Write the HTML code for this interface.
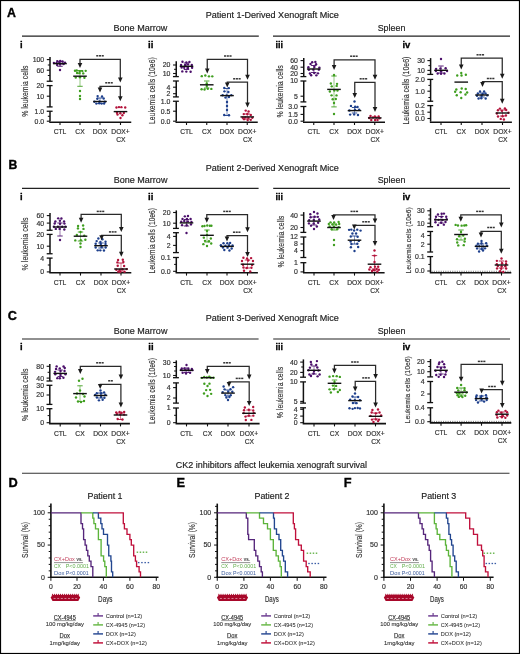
<!DOCTYPE html>
<html><head><meta charset="utf-8"><style>html,body{margin:0;padding:0;background:#fff;width:520px;height:654px;overflow:hidden;position:relative}</style></head><body>
<svg width="520" height="654" viewBox="0 0 520 654" style="position:absolute;left:0;top:0;will-change:transform;font-family:&quot;Liberation Sans&quot;, sans-serif">
<rect x="0" y="0" width="520" height="654" fill="#fff"/>
<text x="7" y="17" font-size="12.35" text-anchor="start" font-weight="bold" fill="#000" stroke="#000" stroke-width="0.35">A</text>
<text x="205.8" y="18.1" font-size="9.59" text-anchor="start" font-weight="normal" fill="#222" stroke="#222" stroke-width="0.18" textLength="133.1" lengthAdjust="spacingAndGlyphs">Patient 1-Derived Xenograft Mice</text>
<text x="113.5" y="31.1" font-size="9.59" text-anchor="start" font-weight="normal" fill="#222" stroke="#222" stroke-width="0.18" textLength="53.9" lengthAdjust="spacingAndGlyphs">Bone Marrow</text>
<text x="377.7" y="31.1" font-size="9.59" text-anchor="start" font-weight="normal" fill="#222" stroke="#222" stroke-width="0.18" textLength="27.7" lengthAdjust="spacingAndGlyphs">Spleen</text>
<line x1="22" y1="36.2" x2="258.8" y2="36.2" stroke="#222" stroke-width="1.2"/>
<line x1="273" y1="36.2" x2="510" y2="36.2" stroke="#222" stroke-width="1.2"/>
<text x="8.45" y="169.4" font-size="12.21" text-anchor="start" font-weight="bold" fill="#000" stroke="#000" stroke-width="0.35">B</text>
<text x="205.8" y="170.6" font-size="9.3" text-anchor="start" font-weight="normal" fill="#222" stroke="#222" stroke-width="0.18" textLength="133.1" lengthAdjust="spacingAndGlyphs">Patient 2-Derived Xenograft Mice</text>
<text x="113.8" y="183.2" font-size="9.45" text-anchor="start" font-weight="normal" fill="#222" stroke="#222" stroke-width="0.18" textLength="53.6" lengthAdjust="spacingAndGlyphs">Bone Marrow</text>
<text x="377.7" y="183.2" font-size="9.45" text-anchor="start" font-weight="normal" fill="#222" stroke="#222" stroke-width="0.18" textLength="27.7" lengthAdjust="spacingAndGlyphs">Spleen</text>
<line x1="22" y1="188.3" x2="258.6" y2="188.3" stroke="#222" stroke-width="1.2"/>
<line x1="273.2" y1="188.3" x2="510" y2="188.3" stroke="#222" stroke-width="1.2"/>
<text x="7.8" y="320.25" font-size="12.72" text-anchor="start" font-weight="bold" fill="#000" stroke="#000" stroke-width="0.35">C</text>
<text x="205.8" y="321.4" font-size="9.3" text-anchor="start" font-weight="normal" fill="#222" stroke="#222" stroke-width="0.18" textLength="133.1" lengthAdjust="spacingAndGlyphs">Patient 3-Derived Xenograft Mice</text>
<text x="113.8" y="334" font-size="9.59" text-anchor="start" font-weight="normal" fill="#222" stroke="#222" stroke-width="0.18" textLength="53.6" lengthAdjust="spacingAndGlyphs">Bone Marrow</text>
<text x="377.7" y="334" font-size="9.59" text-anchor="start" font-weight="normal" fill="#222" stroke="#222" stroke-width="0.18" textLength="27.7" lengthAdjust="spacingAndGlyphs">Spleen</text>
<line x1="22" y1="339" x2="258.6" y2="339" stroke="#222" stroke-width="1.2"/>
<line x1="273.2" y1="339" x2="510" y2="339" stroke="#222" stroke-width="1.2"/>
<text x="19.9" y="47.5" font-size="9.6" text-anchor="start" font-weight="bold" fill="#000" stroke="#000" stroke-width="0.3" textLength="2.6" lengthAdjust="spacingAndGlyphs">i</text>
<text transform="translate(27.6,91.1) rotate(-90)" x="0" y="0" font-size="8.82" text-anchor="middle" fill="#333" stroke="#333" stroke-width="0.15" textLength="51.2" lengthAdjust="spacingAndGlyphs">% leukemia cells</text>
<line x1="50" y1="57" x2="50" y2="81.25" stroke="#111" stroke-width="1.5"/>
<line x1="46.8" y1="59.6" x2="50" y2="59.6" stroke="#111" stroke-width="1.1"/>
<text x="44.2" y="62" font-size="6.9" text-anchor="end" font-weight="normal" fill="#333" stroke="#333" stroke-width="0.18">100</text>
<line x1="47.8" y1="65" x2="50" y2="65" stroke="#111" stroke-width="1"/>
<line x1="46.8" y1="70.2" x2="50" y2="70.2" stroke="#111" stroke-width="1.1"/>
<text x="44.2" y="72.6" font-size="6.9" text-anchor="end" font-weight="normal" fill="#333" stroke="#333" stroke-width="0.18">60</text>
<line x1="47.8" y1="75.5" x2="50" y2="75.5" stroke="#111" stroke-width="1"/>
<line x1="46.7" y1="81.25" x2="52.6" y2="81.25" stroke="#111" stroke-width="1.3"/>
<line x1="50" y1="85.6" x2="50" y2="106.9" stroke="#111" stroke-width="1.5"/>
<line x1="46.7" y1="85.6" x2="52.6" y2="85.6" stroke="#111" stroke-width="1.3"/>
<text x="44.2" y="88" font-size="6.9" text-anchor="end" font-weight="normal" fill="#333" stroke="#333" stroke-width="0.18">20</text>
<line x1="46.8" y1="96.2" x2="50" y2="96.2" stroke="#111" stroke-width="1.1"/>
<text x="44.2" y="98.6" font-size="6.9" text-anchor="end" font-weight="normal" fill="#333" stroke="#333" stroke-width="0.18">10</text>
<line x1="46.7" y1="106.9" x2="52.6" y2="106.9" stroke="#111" stroke-width="1.3"/>
<line x1="50" y1="111.25" x2="50" y2="121.6" stroke="#111" stroke-width="1.5"/>
<line x1="46.7" y1="111.25" x2="52.6" y2="111.25" stroke="#111" stroke-width="1.3"/>
<text x="44.2" y="113.65" font-size="6.9" text-anchor="end" font-weight="normal" fill="#333" stroke="#333" stroke-width="0.18">1.0</text>
<line x1="47.8" y1="116.3" x2="50" y2="116.3" stroke="#111" stroke-width="1"/>
<line x1="46.8" y1="121.2" x2="50" y2="121.2" stroke="#111" stroke-width="1.1"/>
<text x="44.2" y="123.6" font-size="6.9" text-anchor="end" font-weight="normal" fill="#333" stroke="#333" stroke-width="0.18">0.0</text>
<line x1="49.25" y1="122.2" x2="131.25" y2="122.2" stroke="#111" stroke-width="1.6"/>
<line x1="60" y1="122.2" x2="60" y2="125" stroke="#111" stroke-width="1.1"/>
<text x="60" y="134.1" font-size="6.7" text-anchor="middle" font-weight="normal" fill="#333" stroke="#333" stroke-width="0.18">CTL</text>
<line x1="80" y1="122.2" x2="80" y2="125" stroke="#111" stroke-width="1.1"/>
<text x="80" y="134.1" font-size="6.7" text-anchor="middle" font-weight="normal" fill="#333" stroke="#333" stroke-width="0.18">CX</text>
<line x1="100" y1="122.2" x2="100" y2="125" stroke="#111" stroke-width="1.1"/>
<text x="100" y="134.1" font-size="6.7" text-anchor="middle" font-weight="normal" fill="#333" stroke="#333" stroke-width="0.18">DOX</text>
<line x1="120.5" y1="122.2" x2="120.5" y2="125" stroke="#111" stroke-width="1.1"/>
<text x="120.5" y="134.1" font-size="6.7" text-anchor="middle" font-weight="normal" fill="#333" stroke="#333" stroke-width="0.18">DOX+</text>
<text x="120.8" y="142.1" font-size="6.7" text-anchor="middle" font-weight="normal" fill="#333" stroke="#333" stroke-width="0.18">CX</text>
<line x1="60" y1="61.4" x2="60" y2="66.3" stroke="#4b0f6b" stroke-width="0.55"/>
<line x1="57.3" y1="61.4" x2="62.7" y2="61.4" stroke="#4b0f6b" stroke-width="0.9"/>
<line x1="57.3" y1="66.3" x2="62.7" y2="66.3" stroke="#4b0f6b" stroke-width="0.9"/>
<circle cx="57.25" cy="61.08" r="1.2" fill="#4b0f6b"/>
<circle cx="60.21" cy="60.99" r="1.2" fill="#4b0f6b"/>
<circle cx="62.55" cy="61.34" r="1.2" fill="#4b0f6b"/>
<circle cx="53.88" cy="63.01" r="1.2" fill="#4b0f6b"/>
<circle cx="56.6" cy="62.92" r="1.2" fill="#4b0f6b"/>
<circle cx="59.4" cy="62.51" r="1.2" fill="#4b0f6b"/>
<circle cx="62.64" cy="63.39" r="1.2" fill="#4b0f6b"/>
<circle cx="64.97" cy="62.67" r="1.2" fill="#4b0f6b"/>
<circle cx="57.18" cy="65.04" r="1.2" fill="#4b0f6b"/>
<circle cx="60.11" cy="64.38" r="1.2" fill="#4b0f6b"/>
<circle cx="63.67" cy="63.96" r="1.2" fill="#4b0f6b"/>
<circle cx="60" cy="70" r="1.2" fill="#4b0f6b"/>
<line x1="53.2" y1="63.6" x2="66.8" y2="63.6" stroke="#111" stroke-width="1.4"/>
<line x1="80" y1="70.5" x2="80" y2="86.3" stroke="#3f9e1f" stroke-width="0.55"/>
<line x1="77.3" y1="70.5" x2="82.7" y2="70.5" stroke="#3f9e1f" stroke-width="0.9"/>
<line x1="77.3" y1="86.3" x2="82.7" y2="86.3" stroke="#3f9e1f" stroke-width="0.9"/>
<circle cx="75" cy="70.75" r="1.2" fill="#3f9e1f"/>
<circle cx="76.75" cy="70.54" r="1.2" fill="#3f9e1f"/>
<circle cx="79.73" cy="71.38" r="1.2" fill="#3f9e1f"/>
<circle cx="82.3" cy="71.1" r="1.2" fill="#3f9e1f"/>
<circle cx="85.69" cy="70.85" r="1.2" fill="#3f9e1f"/>
<circle cx="77.07" cy="72.98" r="1.2" fill="#3f9e1f"/>
<circle cx="79.38" cy="73.15" r="1.2" fill="#3f9e1f"/>
<circle cx="83.25" cy="73.41" r="1.2" fill="#3f9e1f"/>
<circle cx="75.74" cy="77.6" r="1.2" fill="#3f9e1f"/>
<circle cx="79.93" cy="77.26" r="1.2" fill="#3f9e1f"/>
<circle cx="84.41" cy="77.74" r="1.2" fill="#3f9e1f"/>
<circle cx="80" cy="91" r="1.2" fill="#3f9e1f"/>
<circle cx="80" cy="96" r="1.2" fill="#3f9e1f"/>
<circle cx="80" cy="99" r="1.2" fill="#3f9e1f"/>
<line x1="73.2" y1="76.2" x2="86.8" y2="76.2" stroke="#111" stroke-width="1.4"/>
<line x1="100" y1="98" x2="100" y2="103.5" stroke="#1d3f8c" stroke-width="0.55"/>
<line x1="97.3" y1="98" x2="102.7" y2="98" stroke="#1d3f8c" stroke-width="0.9"/>
<line x1="97.3" y1="103.5" x2="102.7" y2="103.5" stroke="#1d3f8c" stroke-width="0.9"/>
<circle cx="97.64" cy="96.09" r="1.2" fill="#1d3f8c"/>
<circle cx="102.04" cy="96.45" r="1.2" fill="#1d3f8c"/>
<circle cx="97.32" cy="98.75" r="1.2" fill="#1d3f8c"/>
<circle cx="103.67" cy="98.54" r="1.2" fill="#1d3f8c"/>
<circle cx="94.39" cy="101.81" r="1.2" fill="#1d3f8c"/>
<circle cx="99.51" cy="101.49" r="1.2" fill="#1d3f8c"/>
<circle cx="104.85" cy="101.7" r="1.2" fill="#1d3f8c"/>
<circle cx="96.37" cy="103.59" r="1.2" fill="#1d3f8c"/>
<circle cx="99.19" cy="103.28" r="1.2" fill="#1d3f8c"/>
<circle cx="101.61" cy="103.61" r="1.2" fill="#1d3f8c"/>
<circle cx="104.11" cy="103.45" r="1.2" fill="#1d3f8c"/>
<line x1="93.2" y1="101.5" x2="106.8" y2="101.5" stroke="#111" stroke-width="1.4"/>
<circle cx="116.48" cy="107.43" r="1.2" fill="#b3123a"/>
<circle cx="118.96" cy="107.1" r="1.2" fill="#b3123a"/>
<circle cx="121.38" cy="107.14" r="1.2" fill="#b3123a"/>
<circle cx="125.21" cy="107.49" r="1.2" fill="#b3123a"/>
<circle cx="116.95" cy="112.74" r="1.2" fill="#b3123a"/>
<circle cx="120.34" cy="113.2" r="1.2" fill="#b3123a"/>
<circle cx="123.83" cy="112.95" r="1.2" fill="#b3123a"/>
<circle cx="117.54" cy="114.54" r="1.2" fill="#b3123a"/>
<circle cx="122.38" cy="115.32" r="1.2" fill="#b3123a"/>
<circle cx="120.5" cy="118" r="1.2" fill="#b3123a"/>
<line x1="113.7" y1="111.6" x2="127.3" y2="111.6" stroke="#111" stroke-width="1.4"/>
<polyline points="80,64.5 80,59.3 120.3,59.3 120.3,79" fill="none" stroke="#2a2a2a" stroke-width="1.25"/>
<polygon points="77.7,63 82.3,63 80,68" fill="#1a1a1a"/>
<polygon points="118,77.5 122.6,77.5 120.3,82.5" fill="#1a1a1a"/>
<rect x="96.22" y="55.05" width="2.1" height="1.5" fill="#333"/>
<rect x="98.95" y="55.05" width="2.1" height="1.5" fill="#333"/>
<rect x="101.68" y="55.05" width="2.1" height="1.5" fill="#333"/>
<polyline points="100,89 100,86.3 120.3,86.3 120.3,97.8" fill="none" stroke="#2a2a2a" stroke-width="1.25"/>
<polygon points="97.7,87.5 102.3,87.5 100,92.5" fill="#1a1a1a"/>
<polygon points="118,96.3 122.6,96.3 120.3,101.3" fill="#1a1a1a"/>
<rect x="105.22" y="82.05" width="2.1" height="1.5" fill="#333"/>
<rect x="107.95" y="82.05" width="2.1" height="1.5" fill="#333"/>
<rect x="110.68" y="82.05" width="2.1" height="1.5" fill="#333"/>
<text x="148" y="47.5" font-size="9.6" text-anchor="start" font-weight="bold" fill="#000" stroke="#000" stroke-width="0.3" textLength="5.3" lengthAdjust="spacingAndGlyphs">ii</text>
<text transform="translate(155.18,90.65) rotate(-90)" x="0" y="0" font-size="8.44" text-anchor="middle" fill="#333" stroke="#333" stroke-width="0.15" textLength="66.7" lengthAdjust="spacingAndGlyphs">Leukemia cells (10e6)</text>
<line x1="176.25" y1="61.2" x2="176.25" y2="76.6" stroke="#111" stroke-width="1.5"/>
<line x1="173.05" y1="65" x2="176.25" y2="65" stroke="#111" stroke-width="1.1"/>
<text x="170.45" y="67.4" font-size="6.9" text-anchor="end" font-weight="normal" fill="#333" stroke="#333" stroke-width="0.18">20</text>
<line x1="174.05" y1="69.3" x2="176.25" y2="69.3" stroke="#111" stroke-width="1"/>
<line x1="173.05" y1="73.5" x2="176.25" y2="73.5" stroke="#111" stroke-width="1.1"/>
<text x="170.45" y="75.9" font-size="6.9" text-anchor="end" font-weight="normal" fill="#333" stroke="#333" stroke-width="0.18">10</text>
<line x1="172.95" y1="76.6" x2="178.85" y2="76.6" stroke="#111" stroke-width="1.3"/>
<line x1="176.25" y1="81" x2="176.25" y2="96.9" stroke="#111" stroke-width="1.5"/>
<line x1="172.95" y1="81" x2="178.85" y2="81" stroke="#111" stroke-width="1.3"/>
<line x1="173.05" y1="87.2" x2="176.25" y2="87.2" stroke="#111" stroke-width="1.1"/>
<text x="170.45" y="89.6" font-size="6.9" text-anchor="end" font-weight="normal" fill="#333" stroke="#333" stroke-width="0.18">4</text>
<line x1="173.05" y1="93.7" x2="176.25" y2="93.7" stroke="#111" stroke-width="1.1"/>
<text x="170.45" y="96.1" font-size="6.9" text-anchor="end" font-weight="normal" fill="#333" stroke="#333" stroke-width="0.18">2</text>
<line x1="172.95" y1="96.9" x2="178.85" y2="96.9" stroke="#111" stroke-width="1.3"/>
<line x1="176.25" y1="101.25" x2="176.25" y2="121.6" stroke="#111" stroke-width="1.5"/>
<line x1="172.95" y1="101.25" x2="178.85" y2="101.25" stroke="#111" stroke-width="1.3"/>
<text x="170.45" y="103.65" font-size="6.9" text-anchor="end" font-weight="normal" fill="#333" stroke="#333" stroke-width="0.18">1.0</text>
<line x1="173.05" y1="111.2" x2="176.25" y2="111.2" stroke="#111" stroke-width="1.1"/>
<text x="170.45" y="113.6" font-size="6.9" text-anchor="end" font-weight="normal" fill="#333" stroke="#333" stroke-width="0.18">0.5</text>
<line x1="173.05" y1="121.2" x2="176.25" y2="121.2" stroke="#111" stroke-width="1.1"/>
<text x="170.45" y="123.6" font-size="6.9" text-anchor="end" font-weight="normal" fill="#333" stroke="#333" stroke-width="0.18">0.0</text>
<line x1="175.5" y1="122.2" x2="257.75" y2="122.2" stroke="#111" stroke-width="1.6"/>
<line x1="186.5" y1="122.2" x2="186.5" y2="125" stroke="#111" stroke-width="1.1"/>
<text x="186.5" y="134.1" font-size="6.7" text-anchor="middle" font-weight="normal" fill="#333" stroke="#333" stroke-width="0.18">CTL</text>
<line x1="206.75" y1="122.2" x2="206.75" y2="125" stroke="#111" stroke-width="1.1"/>
<text x="206.75" y="134.1" font-size="6.7" text-anchor="middle" font-weight="normal" fill="#333" stroke="#333" stroke-width="0.18">CX</text>
<line x1="227" y1="122.2" x2="227" y2="125" stroke="#111" stroke-width="1.1"/>
<text x="227" y="134.1" font-size="6.7" text-anchor="middle" font-weight="normal" fill="#333" stroke="#333" stroke-width="0.18">DOX</text>
<line x1="247.25" y1="122.2" x2="247.25" y2="125" stroke="#111" stroke-width="1.1"/>
<text x="247.25" y="134.1" font-size="6.7" text-anchor="middle" font-weight="normal" fill="#333" stroke="#333" stroke-width="0.18">DOX+</text>
<text x="247.55" y="142.1" font-size="6.7" text-anchor="middle" font-weight="normal" fill="#333" stroke="#333" stroke-width="0.18">CX</text>
<line x1="186.5" y1="63" x2="186.5" y2="69.5" stroke="#4b0f6b" stroke-width="0.55"/>
<line x1="183.8" y1="63" x2="189.2" y2="63" stroke="#4b0f6b" stroke-width="0.9"/>
<line x1="183.8" y1="69.5" x2="189.2" y2="69.5" stroke="#4b0f6b" stroke-width="0.9"/>
<circle cx="182.48" cy="61.7" r="1.2" fill="#4b0f6b"/>
<circle cx="186.35" cy="62.45" r="1.2" fill="#4b0f6b"/>
<circle cx="189.41" cy="61.94" r="1.2" fill="#4b0f6b"/>
<circle cx="181.07" cy="64.96" r="1.2" fill="#4b0f6b"/>
<circle cx="185.11" cy="64.94" r="1.2" fill="#4b0f6b"/>
<circle cx="188.02" cy="64.4" r="1.2" fill="#4b0f6b"/>
<circle cx="191.8" cy="64.96" r="1.2" fill="#4b0f6b"/>
<circle cx="181.64" cy="67.58" r="1.2" fill="#4b0f6b"/>
<circle cx="184.21" cy="67.68" r="1.2" fill="#4b0f6b"/>
<circle cx="187.96" cy="67.98" r="1.2" fill="#4b0f6b"/>
<circle cx="192.12" cy="67.72" r="1.2" fill="#4b0f6b"/>
<circle cx="182.31" cy="71.4" r="1.2" fill="#4b0f6b"/>
<circle cx="186.32" cy="71.58" r="1.2" fill="#4b0f6b"/>
<circle cx="190.63" cy="71.73" r="1.2" fill="#4b0f6b"/>
<line x1="179.7" y1="66.3" x2="193.3" y2="66.3" stroke="#111" stroke-width="1.4"/>
<line x1="206.75" y1="81" x2="206.75" y2="88" stroke="#3f9e1f" stroke-width="0.55"/>
<line x1="204.05" y1="81" x2="209.45" y2="81" stroke="#3f9e1f" stroke-width="0.9"/>
<line x1="204.05" y1="88" x2="209.45" y2="88" stroke="#3f9e1f" stroke-width="0.9"/>
<circle cx="201.77" cy="76.14" r="1.2" fill="#3f9e1f"/>
<circle cx="205.33" cy="75.46" r="1.2" fill="#3f9e1f"/>
<circle cx="208.98" cy="76.34" r="1.2" fill="#3f9e1f"/>
<circle cx="212.27" cy="76.36" r="1.2" fill="#3f9e1f"/>
<circle cx="206.75" cy="83.5" r="1.2" fill="#3f9e1f"/>
<circle cx="206.75" cy="86" r="1.2" fill="#3f9e1f"/>
<circle cx="201.6" cy="89.18" r="1.2" fill="#3f9e1f"/>
<circle cx="204.53" cy="89.46" r="1.2" fill="#3f9e1f"/>
<circle cx="207.8" cy="88.78" r="1.2" fill="#3f9e1f"/>
<circle cx="211.34" cy="88.89" r="1.2" fill="#3f9e1f"/>
<line x1="199.95" y1="84.8" x2="213.55" y2="84.8" stroke="#111" stroke-width="1.4"/>
<line x1="227" y1="88.5" x2="227" y2="115.5" stroke="#1d3f8c" stroke-width="0.55"/>
<line x1="224.3" y1="88.5" x2="229.7" y2="88.5" stroke="#1d3f8c" stroke-width="0.9"/>
<line x1="224.3" y1="115.5" x2="229.7" y2="115.5" stroke="#1d3f8c" stroke-width="0.9"/>
<circle cx="224.28" cy="87.96" r="1.2" fill="#1d3f8c"/>
<circle cx="228.8" cy="88.08" r="1.2" fill="#1d3f8c"/>
<circle cx="224.44" cy="91.34" r="1.2" fill="#1d3f8c"/>
<circle cx="228.34" cy="91.95" r="1.2" fill="#1d3f8c"/>
<circle cx="222.66" cy="95.18" r="1.2" fill="#1d3f8c"/>
<circle cx="226.65" cy="95.42" r="1.2" fill="#1d3f8c"/>
<circle cx="231.31" cy="95.15" r="1.2" fill="#1d3f8c"/>
<circle cx="225.49" cy="97.59" r="1.2" fill="#1d3f8c"/>
<circle cx="228.95" cy="96.98" r="1.2" fill="#1d3f8c"/>
<circle cx="227" cy="102" r="1.2" fill="#1d3f8c"/>
<circle cx="227" cy="106" r="1.2" fill="#1d3f8c"/>
<circle cx="227" cy="110" r="1.2" fill="#1d3f8c"/>
<circle cx="224.22" cy="115.02" r="1.2" fill="#1d3f8c"/>
<circle cx="228.98" cy="115.22" r="1.2" fill="#1d3f8c"/>
<line x1="220.2" y1="95.6" x2="233.8" y2="95.6" stroke="#111" stroke-width="1.4"/>
<line x1="247.25" y1="114" x2="247.25" y2="119" stroke="#b3123a" stroke-width="0.55"/>
<line x1="244.55" y1="114" x2="249.95" y2="114" stroke="#b3123a" stroke-width="0.9"/>
<line x1="244.55" y1="119" x2="249.95" y2="119" stroke="#b3123a" stroke-width="0.9"/>
<circle cx="245.71" cy="110.59" r="1.2" fill="#b3123a"/>
<circle cx="248.58" cy="111.54" r="1.2" fill="#b3123a"/>
<circle cx="243.79" cy="114.08" r="1.2" fill="#b3123a"/>
<circle cx="247.31" cy="113.93" r="1.2" fill="#b3123a"/>
<circle cx="250.79" cy="115.07" r="1.2" fill="#b3123a"/>
<circle cx="242.76" cy="117.74" r="1.2" fill="#b3123a"/>
<circle cx="245.25" cy="117.34" r="1.2" fill="#b3123a"/>
<circle cx="248.45" cy="117.83" r="1.2" fill="#b3123a"/>
<circle cx="252.3" cy="117.83" r="1.2" fill="#b3123a"/>
<circle cx="244.01" cy="119.17" r="1.2" fill="#b3123a"/>
<circle cx="247.69" cy="120.08" r="1.2" fill="#b3123a"/>
<circle cx="250.74" cy="119.87" r="1.2" fill="#b3123a"/>
<line x1="240.45" y1="116.9" x2="254.05" y2="116.9" stroke="#111" stroke-width="1.4"/>
<polyline points="207.25,70 207.25,59.4 247.5,59.4 247.5,76.3" fill="none" stroke="#2a2a2a" stroke-width="1.25"/>
<polygon points="204.95,68.5 209.55,68.5 207.25,73.5" fill="#1a1a1a"/>
<polygon points="245.2,74.8 249.8,74.8 247.5,79.8" fill="#1a1a1a"/>
<rect x="224.02" y="55.25" width="2.1" height="1.5" fill="#333"/>
<rect x="226.75" y="55.25" width="2.1" height="1.5" fill="#333"/>
<rect x="229.48" y="55.25" width="2.1" height="1.5" fill="#333"/>
<polyline points="227.25,84 227.25,82.1 247.5,82.1 247.5,104" fill="none" stroke="#2a2a2a" stroke-width="1.25"/>
<polygon points="224.95,82.5 229.55,82.5 227.25,87.5" fill="#1a1a1a"/>
<polygon points="245.2,102.5 249.8,102.5 247.5,107.5" fill="#1a1a1a"/>
<rect x="233.12" y="78.05" width="2.1" height="1.5" fill="#333"/>
<rect x="235.85" y="78.05" width="2.1" height="1.5" fill="#333"/>
<rect x="238.58" y="78.05" width="2.1" height="1.5" fill="#333"/>
<text x="275.4" y="47.5" font-size="9.6" text-anchor="start" font-weight="bold" fill="#000" stroke="#000" stroke-width="0.3" textLength="7.5" lengthAdjust="spacingAndGlyphs">iii</text>
<text transform="translate(283.3,91.4) rotate(-90)" x="0" y="0" font-size="8.42" text-anchor="middle" fill="#333" stroke="#333" stroke-width="0.15" textLength="52.4" lengthAdjust="spacingAndGlyphs">% leukemia cells</text>
<line x1="303.75" y1="58" x2="303.75" y2="76.6" stroke="#111" stroke-width="1.5"/>
<line x1="300.55" y1="60.6" x2="303.75" y2="60.6" stroke="#111" stroke-width="1.1"/>
<text x="297.95" y="63" font-size="6.9" text-anchor="end" font-weight="normal" fill="#333" stroke="#333" stroke-width="0.18">60</text>
<line x1="300.55" y1="67.2" x2="303.75" y2="67.2" stroke="#111" stroke-width="1.1"/>
<text x="297.95" y="69.6" font-size="6.9" text-anchor="end" font-weight="normal" fill="#333" stroke="#333" stroke-width="0.18">40</text>
<line x1="300.55" y1="73.5" x2="303.75" y2="73.5" stroke="#111" stroke-width="1.1"/>
<text x="297.95" y="75.9" font-size="6.9" text-anchor="end" font-weight="normal" fill="#333" stroke="#333" stroke-width="0.18">20</text>
<line x1="300.45" y1="76.6" x2="306.35" y2="76.6" stroke="#111" stroke-width="1.3"/>
<line x1="303.75" y1="81" x2="303.75" y2="101.9" stroke="#111" stroke-width="1.5"/>
<line x1="300.45" y1="81" x2="306.35" y2="81" stroke="#111" stroke-width="1.3"/>
<text x="297.95" y="83.4" font-size="6.9" text-anchor="end" font-weight="normal" fill="#333" stroke="#333" stroke-width="0.18">10</text>
<line x1="300.55" y1="96.2" x2="303.75" y2="96.2" stroke="#111" stroke-width="1.1"/>
<text x="297.95" y="98.6" font-size="6.9" text-anchor="end" font-weight="normal" fill="#333" stroke="#333" stroke-width="0.18">5</text>
<line x1="300.45" y1="101.9" x2="306.35" y2="101.9" stroke="#111" stroke-width="1.3"/>
<line x1="303.75" y1="106.5" x2="303.75" y2="121.6" stroke="#111" stroke-width="1.5"/>
<line x1="300.45" y1="106.5" x2="306.35" y2="106.5" stroke="#111" stroke-width="1.3"/>
<text x="297.95" y="108.9" font-size="6.9" text-anchor="end" font-weight="normal" fill="#333" stroke="#333" stroke-width="0.18">3.0</text>
<line x1="300.55" y1="114.4" x2="303.75" y2="114.4" stroke="#111" stroke-width="1.1"/>
<text x="297.95" y="116.8" font-size="6.9" text-anchor="end" font-weight="normal" fill="#333" stroke="#333" stroke-width="0.18">1.5</text>
<line x1="300.55" y1="121.2" x2="303.75" y2="121.2" stroke="#111" stroke-width="1.1"/>
<text x="297.95" y="123.6" font-size="6.9" text-anchor="end" font-weight="normal" fill="#333" stroke="#333" stroke-width="0.18">0.0</text>
<line x1="303" y1="122.2" x2="385" y2="122.2" stroke="#111" stroke-width="1.6"/>
<line x1="313.75" y1="122.2" x2="313.75" y2="125" stroke="#111" stroke-width="1.1"/>
<text x="313.75" y="134.1" font-size="6.7" text-anchor="middle" font-weight="normal" fill="#333" stroke="#333" stroke-width="0.18">CTL</text>
<line x1="334" y1="122.2" x2="334" y2="125" stroke="#111" stroke-width="1.1"/>
<text x="334" y="134.1" font-size="6.7" text-anchor="middle" font-weight="normal" fill="#333" stroke="#333" stroke-width="0.18">CX</text>
<line x1="354.5" y1="122.2" x2="354.5" y2="125" stroke="#111" stroke-width="1.1"/>
<text x="354.5" y="134.1" font-size="6.7" text-anchor="middle" font-weight="normal" fill="#333" stroke="#333" stroke-width="0.18">DOX</text>
<line x1="374.75" y1="122.2" x2="374.75" y2="125" stroke="#111" stroke-width="1.1"/>
<text x="374.75" y="134.1" font-size="6.7" text-anchor="middle" font-weight="normal" fill="#333" stroke="#333" stroke-width="0.18">DOX+</text>
<text x="375.05" y="142.1" font-size="6.7" text-anchor="middle" font-weight="normal" fill="#333" stroke="#333" stroke-width="0.18">CX</text>
<line x1="313.75" y1="65.5" x2="313.75" y2="72.5" stroke="#4b0f6b" stroke-width="0.55"/>
<line x1="311.05" y1="65.5" x2="316.45" y2="65.5" stroke="#4b0f6b" stroke-width="0.9"/>
<line x1="311.05" y1="72.5" x2="316.45" y2="72.5" stroke="#4b0f6b" stroke-width="0.9"/>
<circle cx="312.2" cy="62.29" r="1.2" fill="#4b0f6b"/>
<circle cx="315.37" cy="62.02" r="1.2" fill="#4b0f6b"/>
<circle cx="310.55" cy="63.93" r="1.2" fill="#4b0f6b"/>
<circle cx="316.09" cy="64.24" r="1.2" fill="#4b0f6b"/>
<circle cx="308.41" cy="67.23" r="1.2" fill="#4b0f6b"/>
<circle cx="314.39" cy="66.94" r="1.2" fill="#4b0f6b"/>
<circle cx="319.36" cy="67.59" r="1.2" fill="#4b0f6b"/>
<circle cx="308.89" cy="69.84" r="1.2" fill="#4b0f6b"/>
<circle cx="313.36" cy="69.67" r="1.2" fill="#4b0f6b"/>
<circle cx="318.83" cy="69.65" r="1.2" fill="#4b0f6b"/>
<circle cx="309.92" cy="73.48" r="1.2" fill="#4b0f6b"/>
<circle cx="314.23" cy="72.98" r="1.2" fill="#4b0f6b"/>
<circle cx="317.96" cy="73.36" r="1.2" fill="#4b0f6b"/>
<circle cx="311.17" cy="75.19" r="1.2" fill="#4b0f6b"/>
<circle cx="316.32" cy="75.34" r="1.2" fill="#4b0f6b"/>
<line x1="306.95" y1="69" x2="320.55" y2="69" stroke="#111" stroke-width="1.4"/>
<line x1="334" y1="76" x2="334" y2="106.9" stroke="#3f9e1f" stroke-width="0.55"/>
<line x1="331.3" y1="76" x2="336.7" y2="76" stroke="#3f9e1f" stroke-width="0.9"/>
<line x1="331.3" y1="106.9" x2="336.7" y2="106.9" stroke="#3f9e1f" stroke-width="0.9"/>
<circle cx="334" cy="75" r="1.2" fill="#3f9e1f"/>
<circle cx="330.85" cy="83.47" r="1.2" fill="#3f9e1f"/>
<circle cx="337.05" cy="83.85" r="1.2" fill="#3f9e1f"/>
<circle cx="331.77" cy="86.36" r="1.2" fill="#3f9e1f"/>
<circle cx="336.66" cy="85.88" r="1.2" fill="#3f9e1f"/>
<circle cx="329.86" cy="91.54" r="1.2" fill="#3f9e1f"/>
<circle cx="334.31" cy="90.6" r="1.2" fill="#3f9e1f"/>
<circle cx="337.48" cy="90.58" r="1.2" fill="#3f9e1f"/>
<circle cx="331.57" cy="95.37" r="1.2" fill="#3f9e1f"/>
<circle cx="336.5" cy="95.39" r="1.2" fill="#3f9e1f"/>
<circle cx="332.67" cy="99.19" r="1.2" fill="#3f9e1f"/>
<circle cx="335.79" cy="99.06" r="1.2" fill="#3f9e1f"/>
<circle cx="334" cy="103" r="1.2" fill="#3f9e1f"/>
<circle cx="334" cy="114" r="1.2" fill="#3f9e1f"/>
<line x1="327.2" y1="89.4" x2="340.8" y2="89.4" stroke="#111" stroke-width="1.4"/>
<line x1="354.5" y1="107.5" x2="354.5" y2="113" stroke="#1d3f8c" stroke-width="0.55"/>
<line x1="351.8" y1="107.5" x2="357.2" y2="107.5" stroke="#1d3f8c" stroke-width="0.9"/>
<line x1="351.8" y1="113" x2="357.2" y2="113" stroke="#1d3f8c" stroke-width="0.9"/>
<circle cx="354.5" cy="101.5" r="1.2" fill="#1d3f8c"/>
<circle cx="350.98" cy="105.92" r="1.2" fill="#1d3f8c"/>
<circle cx="355.16" cy="106.68" r="1.2" fill="#1d3f8c"/>
<circle cx="357.54" cy="107.02" r="1.2" fill="#1d3f8c"/>
<circle cx="349.41" cy="110.45" r="1.2" fill="#1d3f8c"/>
<circle cx="354.96" cy="109.65" r="1.2" fill="#1d3f8c"/>
<circle cx="359.15" cy="109.75" r="1.2" fill="#1d3f8c"/>
<circle cx="350.14" cy="114.6" r="1.2" fill="#1d3f8c"/>
<circle cx="354.16" cy="114.4" r="1.2" fill="#1d3f8c"/>
<circle cx="357.98" cy="114.99" r="1.2" fill="#1d3f8c"/>
<line x1="347.7" y1="110.6" x2="361.3" y2="110.6" stroke="#111" stroke-width="1.4"/>
<circle cx="370.55" cy="115.95" r="1.2" fill="#b3123a"/>
<circle cx="374.87" cy="116.49" r="1.2" fill="#b3123a"/>
<circle cx="378.64" cy="116.5" r="1.2" fill="#b3123a"/>
<circle cx="369.25" cy="118.04" r="1.2" fill="#b3123a"/>
<circle cx="372.95" cy="117.42" r="1.2" fill="#b3123a"/>
<circle cx="376.5" cy="117.62" r="1.2" fill="#b3123a"/>
<circle cx="379.56" cy="118.36" r="1.2" fill="#b3123a"/>
<circle cx="371.29" cy="119.97" r="1.2" fill="#b3123a"/>
<circle cx="375.07" cy="120.07" r="1.2" fill="#b3123a"/>
<circle cx="377.51" cy="120.02" r="1.2" fill="#b3123a"/>
<line x1="367.95" y1="117.9" x2="381.55" y2="117.9" stroke="#111" stroke-width="1.4"/>
<polyline points="334.1,66.5 334.1,59.75 375,59.75 375,76.3" fill="none" stroke="#2a2a2a" stroke-width="1.25"/>
<polygon points="331.8,65 336.4,65 334.1,70" fill="#1a1a1a"/>
<polygon points="372.7,74.8 377.3,74.8 375,79.8" fill="#1a1a1a"/>
<rect x="350.12" y="55.45" width="2.1" height="1.5" fill="#333"/>
<rect x="352.85" y="55.45" width="2.1" height="1.5" fill="#333"/>
<rect x="355.58" y="55.45" width="2.1" height="1.5" fill="#333"/>
<polyline points="354.75,94.5 354.75,82.25 375,82.25 375,108.4" fill="none" stroke="#2a2a2a" stroke-width="1.25"/>
<polygon points="352.45,93 357.05,93 354.75,98" fill="#1a1a1a"/>
<polygon points="372.7,106.9 377.3,106.9 375,111.9" fill="#1a1a1a"/>
<rect x="359.62" y="78.05" width="2.1" height="1.5" fill="#333"/>
<rect x="362.35" y="78.05" width="2.1" height="1.5" fill="#333"/>
<rect x="365.08" y="78.05" width="2.1" height="1.5" fill="#333"/>
<text x="402.4" y="47.5" font-size="9.6" text-anchor="start" font-weight="bold" fill="#000" stroke="#000" stroke-width="0.3" textLength="7.9" lengthAdjust="spacingAndGlyphs">iv</text>
<text transform="translate(409.02,90.65) rotate(-90)" x="0" y="0" font-size="8.22" text-anchor="middle" fill="#333" stroke="#333" stroke-width="0.15" textLength="67.9" lengthAdjust="spacingAndGlyphs">Leukemia cells (10e6)</text>
<line x1="430.6" y1="58.1" x2="430.6" y2="74.4" stroke="#111" stroke-width="1.5"/>
<line x1="427.4" y1="60.6" x2="430.6" y2="60.6" stroke="#111" stroke-width="1.1"/>
<text x="424.8" y="63" font-size="6.9" text-anchor="end" font-weight="normal" fill="#333" stroke="#333" stroke-width="0.18">30</text>
<line x1="428.4" y1="65.6" x2="430.6" y2="65.6" stroke="#111" stroke-width="1"/>
<line x1="427.4" y1="70.4" x2="430.6" y2="70.4" stroke="#111" stroke-width="1.1"/>
<text x="424.8" y="72.8" font-size="6.9" text-anchor="end" font-weight="normal" fill="#333" stroke="#333" stroke-width="0.18">10</text>
<line x1="427.3" y1="74.4" x2="433.2" y2="74.4" stroke="#111" stroke-width="1.3"/>
<line x1="430.6" y1="79.4" x2="430.6" y2="101.25" stroke="#111" stroke-width="1.5"/>
<line x1="427.3" y1="79.4" x2="433.2" y2="79.4" stroke="#111" stroke-width="1.3"/>
<text x="424.8" y="81.8" font-size="6.9" text-anchor="end" font-weight="normal" fill="#333" stroke="#333" stroke-width="0.18">2.0</text>
<line x1="428.4" y1="85.4" x2="430.6" y2="85.4" stroke="#111" stroke-width="1"/>
<line x1="427.4" y1="91.2" x2="430.6" y2="91.2" stroke="#111" stroke-width="1.1"/>
<text x="424.8" y="93.6" font-size="6.9" text-anchor="end" font-weight="normal" fill="#333" stroke="#333" stroke-width="0.18">1.0</text>
<line x1="428.4" y1="97.5" x2="430.6" y2="97.5" stroke="#111" stroke-width="1"/>
<line x1="427.3" y1="101.25" x2="433.2" y2="101.25" stroke="#111" stroke-width="1.3"/>
<line x1="430.6" y1="105.6" x2="430.6" y2="121.6" stroke="#111" stroke-width="1.5"/>
<line x1="427.3" y1="105.6" x2="433.2" y2="105.6" stroke="#111" stroke-width="1.3"/>
<text x="424.8" y="108" font-size="6.9" text-anchor="end" font-weight="normal" fill="#333" stroke="#333" stroke-width="0.18">0.2</text>
<line x1="427.4" y1="112.2" x2="430.6" y2="112.2" stroke="#111" stroke-width="1.1"/>
<text x="424.8" y="114.6" font-size="6.9" text-anchor="end" font-weight="normal" fill="#333" stroke="#333" stroke-width="0.18">0.1</text>
<line x1="427.4" y1="118.5" x2="430.6" y2="118.5" stroke="#111" stroke-width="1.1"/>
<text x="424.8" y="120.9" font-size="6.9" text-anchor="end" font-weight="normal" fill="#333" stroke="#333" stroke-width="0.18">0.0</text>
<line x1="429.85" y1="122.2" x2="511.9" y2="122.2" stroke="#111" stroke-width="1.6"/>
<line x1="441" y1="122.2" x2="441" y2="125" stroke="#111" stroke-width="1.1"/>
<text x="441" y="134.1" font-size="6.7" text-anchor="middle" font-weight="normal" fill="#333" stroke="#333" stroke-width="0.18">CTL</text>
<line x1="461.25" y1="122.2" x2="461.25" y2="125" stroke="#111" stroke-width="1.1"/>
<text x="461.25" y="134.1" font-size="6.7" text-anchor="middle" font-weight="normal" fill="#333" stroke="#333" stroke-width="0.18">CX</text>
<line x1="482" y1="122.2" x2="482" y2="125" stroke="#111" stroke-width="1.1"/>
<text x="482" y="134.1" font-size="6.7" text-anchor="middle" font-weight="normal" fill="#333" stroke="#333" stroke-width="0.18">DOX</text>
<line x1="502.5" y1="122.2" x2="502.5" y2="125" stroke="#111" stroke-width="1.1"/>
<text x="502.5" y="134.1" font-size="6.7" text-anchor="middle" font-weight="normal" fill="#333" stroke="#333" stroke-width="0.18">DOX+</text>
<text x="502.8" y="142.1" font-size="6.7" text-anchor="middle" font-weight="normal" fill="#333" stroke="#333" stroke-width="0.18">CX</text>
<line x1="441" y1="66" x2="441" y2="73" stroke="#4b0f6b" stroke-width="0.55"/>
<line x1="438.3" y1="66" x2="443.7" y2="66" stroke="#4b0f6b" stroke-width="0.9"/>
<line x1="438.3" y1="73" x2="443.7" y2="73" stroke="#4b0f6b" stroke-width="0.9"/>
<circle cx="441" cy="59" r="1.2" fill="#4b0f6b"/>
<circle cx="436.08" cy="68.84" r="1.2" fill="#4b0f6b"/>
<circle cx="440.45" cy="68.57" r="1.2" fill="#4b0f6b"/>
<circle cx="445.65" cy="68.23" r="1.2" fill="#4b0f6b"/>
<circle cx="435.88" cy="71.01" r="1.2" fill="#4b0f6b"/>
<circle cx="441.09" cy="71.31" r="1.2" fill="#4b0f6b"/>
<circle cx="447.08" cy="70.93" r="1.2" fill="#4b0f6b"/>
<circle cx="437.66" cy="73.51" r="1.2" fill="#4b0f6b"/>
<circle cx="441.02" cy="73.73" r="1.2" fill="#4b0f6b"/>
<circle cx="444.43" cy="73.54" r="1.2" fill="#4b0f6b"/>
<line x1="434.2" y1="70.3" x2="447.8" y2="70.3" stroke="#111" stroke-width="1.4"/>
<circle cx="461.25" cy="73" r="1.2" fill="#3f9e1f"/>
<circle cx="457.22" cy="75.53" r="1.2" fill="#3f9e1f"/>
<circle cx="461.53" cy="75.45" r="1.2" fill="#3f9e1f"/>
<circle cx="465.87" cy="74.71" r="1.2" fill="#3f9e1f"/>
<circle cx="456.33" cy="89.53" r="1.2" fill="#3f9e1f"/>
<circle cx="461.73" cy="88.56" r="1.2" fill="#3f9e1f"/>
<circle cx="465.72" cy="88.93" r="1.2" fill="#3f9e1f"/>
<circle cx="455.15" cy="91.69" r="1.2" fill="#3f9e1f"/>
<circle cx="460.65" cy="92.2" r="1.2" fill="#3f9e1f"/>
<circle cx="467.15" cy="92.48" r="1.2" fill="#3f9e1f"/>
<circle cx="456.77" cy="95.26" r="1.2" fill="#3f9e1f"/>
<circle cx="465.47" cy="94.57" r="1.2" fill="#3f9e1f"/>
<circle cx="461.25" cy="98" r="1.2" fill="#3f9e1f"/>
<line x1="454.45" y1="82.1" x2="468.05" y2="82.1" stroke="#111" stroke-width="1.4"/>
<line x1="482" y1="93" x2="482" y2="97" stroke="#1d3f8c" stroke-width="0.55"/>
<line x1="479.3" y1="93" x2="484.7" y2="93" stroke="#1d3f8c" stroke-width="0.9"/>
<line x1="479.3" y1="97" x2="484.7" y2="97" stroke="#1d3f8c" stroke-width="0.9"/>
<circle cx="480.04" cy="91.56" r="1.2" fill="#1d3f8c"/>
<circle cx="484.11" cy="91.54" r="1.2" fill="#1d3f8c"/>
<circle cx="477.86" cy="93.48" r="1.2" fill="#1d3f8c"/>
<circle cx="482.69" cy="93.9" r="1.2" fill="#1d3f8c"/>
<circle cx="485.53" cy="93.42" r="1.2" fill="#1d3f8c"/>
<circle cx="477.02" cy="95.81" r="1.2" fill="#1d3f8c"/>
<circle cx="481.57" cy="95.78" r="1.2" fill="#1d3f8c"/>
<circle cx="487.31" cy="95.42" r="1.2" fill="#1d3f8c"/>
<circle cx="478.58" cy="98.43" r="1.2" fill="#1d3f8c"/>
<circle cx="481.33" cy="98.3" r="1.2" fill="#1d3f8c"/>
<circle cx="485.67" cy="98.51" r="1.2" fill="#1d3f8c"/>
<line x1="475.2" y1="95" x2="488.8" y2="95" stroke="#111" stroke-width="1.4"/>
<line x1="502.5" y1="110" x2="502.5" y2="116" stroke="#b3123a" stroke-width="0.55"/>
<line x1="499.8" y1="110" x2="505.2" y2="110" stroke="#b3123a" stroke-width="0.9"/>
<line x1="499.8" y1="116" x2="505.2" y2="116" stroke="#b3123a" stroke-width="0.9"/>
<circle cx="499.89" cy="108.58" r="1.2" fill="#b3123a"/>
<circle cx="504.9" cy="108.57" r="1.2" fill="#b3123a"/>
<circle cx="497.95" cy="110.22" r="1.2" fill="#b3123a"/>
<circle cx="501.86" cy="110.83" r="1.2" fill="#b3123a"/>
<circle cx="506.18" cy="110.06" r="1.2" fill="#b3123a"/>
<circle cx="496.89" cy="113.49" r="1.2" fill="#b3123a"/>
<circle cx="508.45" cy="112.71" r="1.2" fill="#b3123a"/>
<circle cx="498.01" cy="116.5" r="1.2" fill="#b3123a"/>
<circle cx="502.6" cy="116.24" r="1.2" fill="#b3123a"/>
<circle cx="505.93" cy="115.47" r="1.2" fill="#b3123a"/>
<circle cx="500.76" cy="118.91" r="1.2" fill="#b3123a"/>
<circle cx="503.9" cy="119.53" r="1.2" fill="#b3123a"/>
<line x1="495.7" y1="113" x2="509.3" y2="113" stroke="#111" stroke-width="1.4"/>
<polyline points="461.25,65.9 461.25,58.1 502.25,58.1 502.25,75.3" fill="none" stroke="#2a2a2a" stroke-width="1.25"/>
<polygon points="458.95,64.4 463.55,64.4 461.25,69.4" fill="#1a1a1a"/>
<polygon points="499.95,73.8 504.55,73.8 502.25,78.8" fill="#1a1a1a"/>
<rect x="476.52" y="54.05" width="2.1" height="1.5" fill="#333"/>
<rect x="479.25" y="54.05" width="2.1" height="1.5" fill="#333"/>
<rect x="481.98" y="54.05" width="2.1" height="1.5" fill="#333"/>
<polyline points="482.5,83.4 482.5,81.6 502.25,81.6 502.25,100.3" fill="none" stroke="#2a2a2a" stroke-width="1.25"/>
<polygon points="480.2,81.9 484.8,81.9 482.5,86.9" fill="#1a1a1a"/>
<polygon points="499.95,98.8 504.55,98.8 502.25,103.8" fill="#1a1a1a"/>
<rect x="486.82" y="77.75" width="2.1" height="1.5" fill="#333"/>
<rect x="489.55" y="77.75" width="2.1" height="1.5" fill="#333"/>
<rect x="492.28" y="77.75" width="2.1" height="1.5" fill="#333"/>
<text x="19.9" y="199.5" font-size="9.6" text-anchor="start" font-weight="bold" fill="#000" stroke="#000" stroke-width="0.3" textLength="2.6" lengthAdjust="spacingAndGlyphs">i</text>
<text transform="translate(28.1,244) rotate(-90)" x="0" y="0" font-size="9.61" text-anchor="middle" fill="#333" stroke="#333" stroke-width="0.15" textLength="53" lengthAdjust="spacingAndGlyphs">% leukemia cells</text>
<line x1="50" y1="213.1" x2="50" y2="230.25" stroke="#111" stroke-width="1.5"/>
<line x1="46.8" y1="215.6" x2="50" y2="215.6" stroke="#111" stroke-width="1.1"/>
<text x="44.2" y="218" font-size="6.9" text-anchor="end" font-weight="normal" fill="#333" stroke="#333" stroke-width="0.18">60</text>
<line x1="46.8" y1="223.1" x2="50" y2="223.1" stroke="#111" stroke-width="1.1"/>
<text x="44.2" y="225.5" font-size="6.9" text-anchor="end" font-weight="normal" fill="#333" stroke="#333" stroke-width="0.18">40</text>
<line x1="46.7" y1="230.25" x2="52.6" y2="230.25" stroke="#111" stroke-width="1.3"/>
<line x1="50" y1="234.4" x2="50" y2="253.75" stroke="#111" stroke-width="1.5"/>
<line x1="46.7" y1="234.4" x2="52.6" y2="234.4" stroke="#111" stroke-width="1.3"/>
<text x="44.2" y="236.8" font-size="6.9" text-anchor="end" font-weight="normal" fill="#333" stroke="#333" stroke-width="0.18">20</text>
<line x1="46.8" y1="246.2" x2="50" y2="246.2" stroke="#111" stroke-width="1.1"/>
<text x="44.2" y="248.6" font-size="6.9" text-anchor="end" font-weight="normal" fill="#333" stroke="#333" stroke-width="0.18">10</text>
<line x1="46.7" y1="253.75" x2="52.6" y2="253.75" stroke="#111" stroke-width="1.3"/>
<line x1="50" y1="258.1" x2="50" y2="272.2" stroke="#111" stroke-width="1.5"/>
<line x1="46.7" y1="258.1" x2="52.6" y2="258.1" stroke="#111" stroke-width="1.3"/>
<text x="44.2" y="260.5" font-size="6.9" text-anchor="end" font-weight="normal" fill="#333" stroke="#333" stroke-width="0.18">4</text>
<line x1="47.8" y1="265" x2="50" y2="265" stroke="#111" stroke-width="1"/>
<line x1="46.8" y1="271.9" x2="50" y2="271.9" stroke="#111" stroke-width="1.1"/>
<text x="44.2" y="274.3" font-size="6.9" text-anchor="end" font-weight="normal" fill="#333" stroke="#333" stroke-width="0.18">0</text>
<line x1="49.25" y1="272.8" x2="131.3" y2="272.8" stroke="#111" stroke-width="1.6"/>
<line x1="60" y1="272.8" x2="60" y2="275.6" stroke="#111" stroke-width="1.1"/>
<text x="60" y="284.7" font-size="6.7" text-anchor="middle" font-weight="normal" fill="#333" stroke="#333" stroke-width="0.18">CTL</text>
<line x1="80.5" y1="272.8" x2="80.5" y2="275.6" stroke="#111" stroke-width="1.1"/>
<text x="80.5" y="284.7" font-size="6.7" text-anchor="middle" font-weight="normal" fill="#333" stroke="#333" stroke-width="0.18">CX</text>
<line x1="101" y1="272.8" x2="101" y2="275.6" stroke="#111" stroke-width="1.1"/>
<text x="101" y="284.7" font-size="6.7" text-anchor="middle" font-weight="normal" fill="#333" stroke="#333" stroke-width="0.18">DOX</text>
<line x1="121" y1="272.8" x2="121" y2="275.6" stroke="#111" stroke-width="1.1"/>
<text x="121" y="284.7" font-size="6.7" text-anchor="middle" font-weight="normal" fill="#333" stroke="#333" stroke-width="0.18">DOX+</text>
<text x="121.3" y="292.7" font-size="6.7" text-anchor="middle" font-weight="normal" fill="#333" stroke="#333" stroke-width="0.18">CX</text>
<line x1="60" y1="223" x2="60" y2="236" stroke="#4b0f6b" stroke-width="0.55"/>
<line x1="57.3" y1="223" x2="62.7" y2="223" stroke="#4b0f6b" stroke-width="0.9"/>
<line x1="57.3" y1="236" x2="62.7" y2="236" stroke="#4b0f6b" stroke-width="0.9"/>
<circle cx="58.19" cy="218.36" r="1.2" fill="#4b0f6b"/>
<circle cx="61.42" cy="218.43" r="1.2" fill="#4b0f6b"/>
<circle cx="55.39" cy="221.44" r="1.2" fill="#4b0f6b"/>
<circle cx="59.94" cy="220.81" r="1.2" fill="#4b0f6b"/>
<circle cx="64.07" cy="221.51" r="1.2" fill="#4b0f6b"/>
<circle cx="54.68" cy="223.56" r="1.2" fill="#4b0f6b"/>
<circle cx="60.04" cy="223.69" r="1.2" fill="#4b0f6b"/>
<circle cx="64.45" cy="223.59" r="1.2" fill="#4b0f6b"/>
<circle cx="53.87" cy="226.64" r="1.2" fill="#4b0f6b"/>
<circle cx="57.9" cy="226.77" r="1.2" fill="#4b0f6b"/>
<circle cx="62.2" cy="226.75" r="1.2" fill="#4b0f6b"/>
<circle cx="65.5" cy="226.61" r="1.2" fill="#4b0f6b"/>
<circle cx="55.79" cy="228.92" r="1.2" fill="#4b0f6b"/>
<circle cx="59.65" cy="228.92" r="1.2" fill="#4b0f6b"/>
<circle cx="64.33" cy="229.56" r="1.2" fill="#4b0f6b"/>
<circle cx="60" cy="240" r="1.2" fill="#4b0f6b"/>
<line x1="53.2" y1="227" x2="66.8" y2="227" stroke="#111" stroke-width="1.4"/>
<line x1="80.5" y1="232" x2="80.5" y2="241" stroke="#3f9e1f" stroke-width="0.55"/>
<line x1="77.8" y1="232" x2="83.2" y2="232" stroke="#3f9e1f" stroke-width="0.9"/>
<line x1="77.8" y1="241" x2="83.2" y2="241" stroke="#3f9e1f" stroke-width="0.9"/>
<circle cx="78.07" cy="225.97" r="1.2" fill="#3f9e1f"/>
<circle cx="83.11" cy="225.53" r="1.2" fill="#3f9e1f"/>
<circle cx="77.95" cy="228.42" r="1.2" fill="#3f9e1f"/>
<circle cx="83.49" cy="228.9" r="1.2" fill="#3f9e1f"/>
<circle cx="80.5" cy="232" r="1.2" fill="#3f9e1f"/>
<circle cx="76.85" cy="235.01" r="1.2" fill="#3f9e1f"/>
<circle cx="84.26" cy="235.58" r="1.2" fill="#3f9e1f"/>
<circle cx="75.28" cy="240.4" r="1.2" fill="#3f9e1f"/>
<circle cx="80.79" cy="240.16" r="1.2" fill="#3f9e1f"/>
<circle cx="85.37" cy="239.82" r="1.2" fill="#3f9e1f"/>
<circle cx="80.5" cy="243.5" r="1.2" fill="#3f9e1f"/>
<circle cx="80.5" cy="247" r="1.2" fill="#3f9e1f"/>
<line x1="73.7" y1="236.2" x2="87.3" y2="236.2" stroke="#111" stroke-width="1.4"/>
<line x1="101" y1="243" x2="101" y2="248" stroke="#1d3f8c" stroke-width="0.55"/>
<line x1="98.3" y1="243" x2="103.7" y2="243" stroke="#1d3f8c" stroke-width="0.9"/>
<line x1="98.3" y1="248" x2="103.7" y2="248" stroke="#1d3f8c" stroke-width="0.9"/>
<circle cx="98.38" cy="238.56" r="1.2" fill="#1d3f8c"/>
<circle cx="102.4" cy="239.29" r="1.2" fill="#1d3f8c"/>
<circle cx="96.66" cy="241.1" r="1.2" fill="#1d3f8c"/>
<circle cx="100.42" cy="241.91" r="1.2" fill="#1d3f8c"/>
<circle cx="105.52" cy="241.7" r="1.2" fill="#1d3f8c"/>
<circle cx="95.69" cy="243.69" r="1.2" fill="#1d3f8c"/>
<circle cx="100.71" cy="243.95" r="1.2" fill="#1d3f8c"/>
<circle cx="105.52" cy="243.93" r="1.2" fill="#1d3f8c"/>
<circle cx="95.67" cy="247.55" r="1.2" fill="#1d3f8c"/>
<circle cx="101.66" cy="247.06" r="1.2" fill="#1d3f8c"/>
<circle cx="105.64" cy="247.56" r="1.2" fill="#1d3f8c"/>
<circle cx="97.73" cy="250.33" r="1.2" fill="#1d3f8c"/>
<circle cx="100.3" cy="250.36" r="1.2" fill="#1d3f8c"/>
<circle cx="103.96" cy="250.5" r="1.2" fill="#1d3f8c"/>
<line x1="94.2" y1="245.7" x2="107.8" y2="245.7" stroke="#111" stroke-width="1.4"/>
<line x1="121" y1="263" x2="121" y2="271" stroke="#b3123a" stroke-width="0.55"/>
<line x1="118.3" y1="263" x2="123.7" y2="263" stroke="#b3123a" stroke-width="0.9"/>
<line x1="118.3" y1="271" x2="123.7" y2="271" stroke="#b3123a" stroke-width="0.9"/>
<circle cx="118.08" cy="260.01" r="1.2" fill="#b3123a"/>
<circle cx="122.81" cy="259.72" r="1.2" fill="#b3123a"/>
<circle cx="117.43" cy="262.38" r="1.2" fill="#b3123a"/>
<circle cx="123.36" cy="261.93" r="1.2" fill="#b3123a"/>
<circle cx="117.73" cy="265.68" r="1.2" fill="#b3123a"/>
<circle cx="124.12" cy="266.04" r="1.2" fill="#b3123a"/>
<circle cx="116.35" cy="269.69" r="1.2" fill="#b3123a"/>
<circle cx="119.64" cy="269.95" r="1.2" fill="#b3123a"/>
<circle cx="122.51" cy="269.29" r="1.2" fill="#b3123a"/>
<circle cx="126.68" cy="269.08" r="1.2" fill="#b3123a"/>
<circle cx="118.31" cy="271.67" r="1.2" fill="#b3123a"/>
<circle cx="120.36" cy="271.9" r="1.2" fill="#b3123a"/>
<circle cx="124.55" cy="271.65" r="1.2" fill="#b3123a"/>
<line x1="114.2" y1="269" x2="127.8" y2="269" stroke="#111" stroke-width="1.4"/>
<polyline points="81.1,219.2 81.1,214.4 121.3,214.4 121.3,228.4" fill="none" stroke="#2a2a2a" stroke-width="1.25"/>
<polygon points="78.8,217.7 83.4,217.7 81.1,222.7" fill="#1a1a1a"/>
<polygon points="119,226.9 123.6,226.9 121.3,231.9" fill="#1a1a1a"/>
<rect x="96.72" y="210.65" width="2.1" height="1.5" fill="#333"/>
<rect x="99.45" y="210.65" width="2.1" height="1.5" fill="#333"/>
<rect x="102.18" y="210.65" width="2.1" height="1.5" fill="#333"/>
<polyline points="101.6,236.8 101.6,235.3 121.3,235.3 121.3,253.3" fill="none" stroke="#2a2a2a" stroke-width="1.25"/>
<polygon points="99.3,235.3 103.9,235.3 101.6,240.3" fill="#1a1a1a"/>
<polygon points="119,251.8 123.6,251.8 121.3,256.8" fill="#1a1a1a"/>
<rect x="108.92" y="231.15" width="2.1" height="1.5" fill="#333"/>
<rect x="111.65" y="231.15" width="2.1" height="1.5" fill="#333"/>
<rect x="114.38" y="231.15" width="2.1" height="1.5" fill="#333"/>
<text x="148" y="199.5" font-size="9.6" text-anchor="start" font-weight="bold" fill="#000" stroke="#000" stroke-width="0.3" textLength="5.3" lengthAdjust="spacingAndGlyphs">ii</text>
<text transform="translate(155.18,240.7) rotate(-90)" x="0" y="0" font-size="8.44" text-anchor="middle" fill="#333" stroke="#333" stroke-width="0.15" textLength="65.4" lengthAdjust="spacingAndGlyphs">Leukemia cells (10e6)</text>
<line x1="176.3" y1="210.4" x2="176.3" y2="228.4" stroke="#111" stroke-width="1.5"/>
<line x1="173.1" y1="212.5" x2="176.3" y2="212.5" stroke="#111" stroke-width="1.1"/>
<text x="170.5" y="214.9" font-size="6.9" text-anchor="end" font-weight="normal" fill="#333" stroke="#333" stroke-width="0.18">20</text>
<line x1="173.1" y1="223.2" x2="176.3" y2="223.2" stroke="#111" stroke-width="1.1"/>
<text x="170.5" y="225.6" font-size="6.9" text-anchor="end" font-weight="normal" fill="#333" stroke="#333" stroke-width="0.18">10</text>
<line x1="173" y1="228.4" x2="178.9" y2="228.4" stroke="#111" stroke-width="1.3"/>
<line x1="176.3" y1="232.7" x2="176.3" y2="252.6" stroke="#111" stroke-width="1.5"/>
<line x1="173" y1="232.7" x2="178.9" y2="232.7" stroke="#111" stroke-width="1.3"/>
<line x1="173.1" y1="236.4" x2="176.3" y2="236.4" stroke="#111" stroke-width="1.1"/>
<text x="170.5" y="238.8" font-size="6.9" text-anchor="end" font-weight="normal" fill="#333" stroke="#333" stroke-width="0.18">4</text>
<line x1="173.1" y1="245.4" x2="176.3" y2="245.4" stroke="#111" stroke-width="1.1"/>
<text x="170.5" y="247.8" font-size="6.9" text-anchor="end" font-weight="normal" fill="#333" stroke="#333" stroke-width="0.18">2</text>
<line x1="173" y1="252.6" x2="178.9" y2="252.6" stroke="#111" stroke-width="1.3"/>
<line x1="176.3" y1="257.5" x2="176.3" y2="272.2" stroke="#111" stroke-width="1.5"/>
<line x1="173" y1="257.5" x2="178.9" y2="257.5" stroke="#111" stroke-width="1.3"/>
<text x="170.5" y="259.9" font-size="6.9" text-anchor="end" font-weight="normal" fill="#333" stroke="#333" stroke-width="0.18">0.1</text>
<line x1="174.1" y1="264.4" x2="176.3" y2="264.4" stroke="#111" stroke-width="1"/>
<line x1="173.1" y1="271.3" x2="176.3" y2="271.3" stroke="#111" stroke-width="1.1"/>
<text x="170.5" y="273.7" font-size="6.9" text-anchor="end" font-weight="normal" fill="#333" stroke="#333" stroke-width="0.18">0.0</text>
<line x1="175.55" y1="272.8" x2="257.9" y2="272.8" stroke="#111" stroke-width="1.6"/>
<line x1="186.5" y1="272.8" x2="186.5" y2="275.6" stroke="#111" stroke-width="1.1"/>
<text x="186.5" y="284.7" font-size="6.7" text-anchor="middle" font-weight="normal" fill="#333" stroke="#333" stroke-width="0.18">CTL</text>
<line x1="207" y1="272.8" x2="207" y2="275.6" stroke="#111" stroke-width="1.1"/>
<text x="207" y="284.7" font-size="6.7" text-anchor="middle" font-weight="normal" fill="#333" stroke="#333" stroke-width="0.18">CX</text>
<line x1="227" y1="272.8" x2="227" y2="275.6" stroke="#111" stroke-width="1.1"/>
<text x="227" y="284.7" font-size="6.7" text-anchor="middle" font-weight="normal" fill="#333" stroke="#333" stroke-width="0.18">DOX</text>
<line x1="247.5" y1="272.8" x2="247.5" y2="275.6" stroke="#111" stroke-width="1.1"/>
<text x="247.5" y="284.7" font-size="6.7" text-anchor="middle" font-weight="normal" fill="#333" stroke="#333" stroke-width="0.18">DOX+</text>
<text x="247.8" y="292.7" font-size="6.7" text-anchor="middle" font-weight="normal" fill="#333" stroke="#333" stroke-width="0.18">CX</text>
<line x1="186.5" y1="219.5" x2="186.5" y2="226" stroke="#4b0f6b" stroke-width="0.55"/>
<line x1="183.8" y1="219.5" x2="189.2" y2="219.5" stroke="#4b0f6b" stroke-width="0.9"/>
<line x1="183.8" y1="226" x2="189.2" y2="226" stroke="#4b0f6b" stroke-width="0.9"/>
<circle cx="184.83" cy="216.37" r="1.2" fill="#4b0f6b"/>
<circle cx="188" cy="216.03" r="1.2" fill="#4b0f6b"/>
<circle cx="182.51" cy="218.9" r="1.2" fill="#4b0f6b"/>
<circle cx="186.93" cy="218.89" r="1.2" fill="#4b0f6b"/>
<circle cx="190.62" cy="218.97" r="1.2" fill="#4b0f6b"/>
<circle cx="181.26" cy="221.73" r="1.2" fill="#4b0f6b"/>
<circle cx="184.29" cy="220.94" r="1.2" fill="#4b0f6b"/>
<circle cx="187.82" cy="221.33" r="1.2" fill="#4b0f6b"/>
<circle cx="191.45" cy="221.9" r="1.2" fill="#4b0f6b"/>
<circle cx="182.08" cy="225.15" r="1.2" fill="#4b0f6b"/>
<circle cx="186.68" cy="225.22" r="1.2" fill="#4b0f6b"/>
<circle cx="190.99" cy="224.4" r="1.2" fill="#4b0f6b"/>
<circle cx="186.5" cy="233" r="1.2" fill="#4b0f6b"/>
<line x1="179.7" y1="222.9" x2="193.3" y2="222.9" stroke="#111" stroke-width="1.4"/>
<line x1="207" y1="230" x2="207" y2="242" stroke="#3f9e1f" stroke-width="0.55"/>
<line x1="204.3" y1="230" x2="209.7" y2="230" stroke="#3f9e1f" stroke-width="0.9"/>
<line x1="204.3" y1="242" x2="209.7" y2="242" stroke="#3f9e1f" stroke-width="0.9"/>
<circle cx="202.42" cy="226.3" r="1.2" fill="#3f9e1f"/>
<circle cx="204.5" cy="226.04" r="1.2" fill="#3f9e1f"/>
<circle cx="207.22" cy="225.48" r="1.2" fill="#3f9e1f"/>
<circle cx="209.83" cy="225.7" r="1.2" fill="#3f9e1f"/>
<circle cx="211.4" cy="225.72" r="1.2" fill="#3f9e1f"/>
<circle cx="207" cy="231" r="1.2" fill="#3f9e1f"/>
<circle cx="207" cy="235" r="1.2" fill="#3f9e1f"/>
<circle cx="203.82" cy="237.65" r="1.2" fill="#3f9e1f"/>
<circle cx="210.84" cy="238.57" r="1.2" fill="#3f9e1f"/>
<circle cx="204.99" cy="240.86" r="1.2" fill="#3f9e1f"/>
<circle cx="208.97" cy="241.22" r="1.2" fill="#3f9e1f"/>
<circle cx="203.37" cy="244.14" r="1.2" fill="#3f9e1f"/>
<circle cx="211.2" cy="243.49" r="1.2" fill="#3f9e1f"/>
<circle cx="207" cy="246" r="1.2" fill="#3f9e1f"/>
<line x1="200.2" y1="235.3" x2="213.8" y2="235.3" stroke="#111" stroke-width="1.4"/>
<circle cx="223.51" cy="243.2" r="1.2" fill="#1d3f8c"/>
<circle cx="227.34" cy="243.27" r="1.2" fill="#1d3f8c"/>
<circle cx="230.09" cy="242.91" r="1.2" fill="#1d3f8c"/>
<circle cx="220.88" cy="245.22" r="1.2" fill="#1d3f8c"/>
<circle cx="225.41" cy="245.73" r="1.2" fill="#1d3f8c"/>
<circle cx="229.08" cy="245.25" r="1.2" fill="#1d3f8c"/>
<circle cx="232.52" cy="245.46" r="1.2" fill="#1d3f8c"/>
<circle cx="222.95" cy="247.54" r="1.2" fill="#1d3f8c"/>
<circle cx="227.55" cy="247.64" r="1.2" fill="#1d3f8c"/>
<circle cx="231.67" cy="248.52" r="1.2" fill="#1d3f8c"/>
<circle cx="224.32" cy="249.95" r="1.2" fill="#1d3f8c"/>
<circle cx="229.45" cy="250.56" r="1.2" fill="#1d3f8c"/>
<line x1="220.2" y1="246.4" x2="233.8" y2="246.4" stroke="#111" stroke-width="1.4"/>
<line x1="247.5" y1="260" x2="247.5" y2="268" stroke="#b3123a" stroke-width="0.55"/>
<line x1="244.8" y1="260" x2="250.2" y2="260" stroke="#b3123a" stroke-width="0.9"/>
<line x1="244.8" y1="268" x2="250.2" y2="268" stroke="#b3123a" stroke-width="0.9"/>
<circle cx="243.43" cy="257.72" r="1.2" fill="#b3123a"/>
<circle cx="247.09" cy="258.53" r="1.2" fill="#b3123a"/>
<circle cx="251.09" cy="258.1" r="1.2" fill="#b3123a"/>
<circle cx="242" cy="261.03" r="1.2" fill="#b3123a"/>
<circle cx="248.13" cy="260.56" r="1.2" fill="#b3123a"/>
<circle cx="252.95" cy="261.01" r="1.2" fill="#b3123a"/>
<circle cx="243.04" cy="264.74" r="1.2" fill="#b3123a"/>
<circle cx="252.12" cy="264.98" r="1.2" fill="#b3123a"/>
<circle cx="243.48" cy="267.43" r="1.2" fill="#b3123a"/>
<circle cx="246.81" cy="267.99" r="1.2" fill="#b3123a"/>
<circle cx="251.43" cy="267.76" r="1.2" fill="#b3123a"/>
<circle cx="244" cy="270.81" r="1.2" fill="#b3123a"/>
<circle cx="250.24" cy="271.41" r="1.2" fill="#b3123a"/>
<line x1="240.7" y1="264.2" x2="254.3" y2="264.2" stroke="#111" stroke-width="1.4"/>
<polyline points="206.8,219.2 206.8,214.5 247.5,214.5 247.5,228.7" fill="none" stroke="#2a2a2a" stroke-width="1.25"/>
<polygon points="204.5,217.7 209.1,217.7 206.8,222.7" fill="#1a1a1a"/>
<polygon points="245.2,227.2 249.8,227.2 247.5,232.2" fill="#1a1a1a"/>
<rect x="223.22" y="210.65" width="2.1" height="1.5" fill="#333"/>
<rect x="225.95" y="210.65" width="2.1" height="1.5" fill="#333"/>
<rect x="228.68" y="210.65" width="2.1" height="1.5" fill="#333"/>
<polyline points="227,237.9 227,235.7 247.5,235.7 247.5,253.5" fill="none" stroke="#2a2a2a" stroke-width="1.25"/>
<polygon points="224.7,236.4 229.3,236.4 227,241.4" fill="#1a1a1a"/>
<polygon points="245.2,252 249.8,252 247.5,257" fill="#1a1a1a"/>
<rect x="232.92" y="231.45" width="2.1" height="1.5" fill="#333"/>
<rect x="235.65" y="231.45" width="2.1" height="1.5" fill="#333"/>
<rect x="238.38" y="231.45" width="2.1" height="1.5" fill="#333"/>
<text x="275.6" y="199.5" font-size="9.6" text-anchor="start" font-weight="bold" fill="#000" stroke="#000" stroke-width="0.3" textLength="7.5" lengthAdjust="spacingAndGlyphs">iii</text>
<text transform="translate(283.5,241.65) rotate(-90)" x="0" y="0" font-size="9.21" text-anchor="middle" fill="#333" stroke="#333" stroke-width="0.15" textLength="51.9" lengthAdjust="spacingAndGlyphs">% leukemia cells</text>
<line x1="303.7" y1="212.1" x2="303.7" y2="232.4" stroke="#111" stroke-width="1.5"/>
<line x1="300.5" y1="215.1" x2="303.7" y2="215.1" stroke="#111" stroke-width="1.1"/>
<text x="297.9" y="217.5" font-size="6.9" text-anchor="end" font-weight="normal" fill="#333" stroke="#333" stroke-width="0.18">40</text>
<line x1="300.5" y1="227.5" x2="303.7" y2="227.5" stroke="#111" stroke-width="1.1"/>
<text x="297.9" y="229.9" font-size="6.9" text-anchor="end" font-weight="normal" fill="#333" stroke="#333" stroke-width="0.18">20</text>
<line x1="300.4" y1="232.4" x2="306.3" y2="232.4" stroke="#111" stroke-width="1.3"/>
<line x1="303.7" y1="237" x2="303.7" y2="257.5" stroke="#111" stroke-width="1.5"/>
<line x1="300.4" y1="237" x2="306.3" y2="237" stroke="#111" stroke-width="1.3"/>
<text x="297.9" y="239.4" font-size="6.9" text-anchor="end" font-weight="normal" fill="#333" stroke="#333" stroke-width="0.18">12</text>
<line x1="300.5" y1="244" x2="303.7" y2="244" stroke="#111" stroke-width="1.1"/>
<text x="297.9" y="246.4" font-size="6.9" text-anchor="end" font-weight="normal" fill="#333" stroke="#333" stroke-width="0.18">8</text>
<line x1="300.5" y1="250.6" x2="303.7" y2="250.6" stroke="#111" stroke-width="1.1"/>
<text x="297.9" y="253" font-size="6.9" text-anchor="end" font-weight="normal" fill="#333" stroke="#333" stroke-width="0.18">4</text>
<line x1="300.4" y1="257.5" x2="306.3" y2="257.5" stroke="#111" stroke-width="1.3"/>
<line x1="303.7" y1="262.7" x2="303.7" y2="272.2" stroke="#111" stroke-width="1.5"/>
<line x1="300.4" y1="262.7" x2="306.3" y2="262.7" stroke="#111" stroke-width="1.3"/>
<text x="297.9" y="265.1" font-size="6.9" text-anchor="end" font-weight="normal" fill="#333" stroke="#333" stroke-width="0.18">1</text>
<line x1="300.5" y1="271.9" x2="303.7" y2="271.9" stroke="#111" stroke-width="1.1"/>
<text x="297.9" y="274.3" font-size="6.9" text-anchor="end" font-weight="normal" fill="#333" stroke="#333" stroke-width="0.18">0</text>
<line x1="302.95" y1="272.8" x2="384.6" y2="272.8" stroke="#111" stroke-width="1.6"/>
<line x1="314" y1="272.8" x2="314" y2="275.6" stroke="#111" stroke-width="1.1"/>
<text x="314" y="284.7" font-size="6.7" text-anchor="middle" font-weight="normal" fill="#333" stroke="#333" stroke-width="0.18">CTL</text>
<line x1="334" y1="272.8" x2="334" y2="275.6" stroke="#111" stroke-width="1.1"/>
<text x="334" y="284.7" font-size="6.7" text-anchor="middle" font-weight="normal" fill="#333" stroke="#333" stroke-width="0.18">CX</text>
<line x1="354.5" y1="272.8" x2="354.5" y2="275.6" stroke="#111" stroke-width="1.1"/>
<text x="354.5" y="284.7" font-size="6.7" text-anchor="middle" font-weight="normal" fill="#333" stroke="#333" stroke-width="0.18">DOX</text>
<line x1="374.5" y1="272.8" x2="374.5" y2="275.6" stroke="#111" stroke-width="1.1"/>
<text x="374.5" y="284.7" font-size="6.7" text-anchor="middle" font-weight="normal" fill="#333" stroke="#333" stroke-width="0.18">DOX+</text>
<text x="374.8" y="292.7" font-size="6.7" text-anchor="middle" font-weight="normal" fill="#333" stroke="#333" stroke-width="0.18">CX</text>
<line x1="314" y1="217" x2="314" y2="225" stroke="#4b0f6b" stroke-width="0.55"/>
<line x1="311.3" y1="217" x2="316.7" y2="217" stroke="#4b0f6b" stroke-width="0.9"/>
<line x1="311.3" y1="225" x2="316.7" y2="225" stroke="#4b0f6b" stroke-width="0.9"/>
<circle cx="314" cy="212" r="1.2" fill="#4b0f6b"/>
<circle cx="310.3" cy="214.3" r="1.2" fill="#4b0f6b"/>
<circle cx="317.47" cy="213.54" r="1.2" fill="#4b0f6b"/>
<circle cx="310.6" cy="217.26" r="1.2" fill="#4b0f6b"/>
<circle cx="314.56" cy="216.75" r="1.2" fill="#4b0f6b"/>
<circle cx="317.82" cy="216.87" r="1.2" fill="#4b0f6b"/>
<circle cx="309.2" cy="220.11" r="1.2" fill="#4b0f6b"/>
<circle cx="313.8" cy="219.91" r="1.2" fill="#4b0f6b"/>
<circle cx="319.19" cy="219.46" r="1.2" fill="#4b0f6b"/>
<circle cx="308.94" cy="223.4" r="1.2" fill="#4b0f6b"/>
<circle cx="313.7" cy="223.52" r="1.2" fill="#4b0f6b"/>
<circle cx="318.15" cy="222.72" r="1.2" fill="#4b0f6b"/>
<circle cx="311.02" cy="225.63" r="1.2" fill="#4b0f6b"/>
<circle cx="316.82" cy="226.55" r="1.2" fill="#4b0f6b"/>
<circle cx="314" cy="229" r="1.2" fill="#4b0f6b"/>
<line x1="307.2" y1="221.1" x2="320.8" y2="221.1" stroke="#111" stroke-width="1.4"/>
<line x1="334" y1="224" x2="334" y2="230" stroke="#3f9e1f" stroke-width="0.55"/>
<line x1="331.3" y1="224" x2="336.7" y2="224" stroke="#3f9e1f" stroke-width="0.9"/>
<line x1="331.3" y1="230" x2="336.7" y2="230" stroke="#3f9e1f" stroke-width="0.9"/>
<circle cx="330.54" cy="222.37" r="1.2" fill="#3f9e1f"/>
<circle cx="334.18" cy="222.5" r="1.2" fill="#3f9e1f"/>
<circle cx="338.62" cy="222.06" r="1.2" fill="#3f9e1f"/>
<circle cx="328.81" cy="223.96" r="1.2" fill="#3f9e1f"/>
<circle cx="332.49" cy="224.44" r="1.2" fill="#3f9e1f"/>
<circle cx="336.19" cy="224.67" r="1.2" fill="#3f9e1f"/>
<circle cx="339.2" cy="223.96" r="1.2" fill="#3f9e1f"/>
<circle cx="329.6" cy="226.55" r="1.2" fill="#3f9e1f"/>
<circle cx="333.96" cy="226.81" r="1.2" fill="#3f9e1f"/>
<circle cx="338.72" cy="227.29" r="1.2" fill="#3f9e1f"/>
<circle cx="331.67" cy="229.21" r="1.2" fill="#3f9e1f"/>
<circle cx="337.22" cy="229.26" r="1.2" fill="#3f9e1f"/>
<circle cx="334" cy="240" r="1.2" fill="#3f9e1f"/>
<circle cx="334" cy="245" r="1.2" fill="#3f9e1f"/>
<line x1="327.2" y1="227.5" x2="340.8" y2="227.5" stroke="#111" stroke-width="1.4"/>
<line x1="354.5" y1="236" x2="354.5" y2="244" stroke="#1d3f8c" stroke-width="0.55"/>
<line x1="351.8" y1="236" x2="357.2" y2="236" stroke="#1d3f8c" stroke-width="0.9"/>
<line x1="351.8" y1="244" x2="357.2" y2="244" stroke="#1d3f8c" stroke-width="0.9"/>
<circle cx="349.08" cy="229.87" r="1.2" fill="#1d3f8c"/>
<circle cx="351.28" cy="229.59" r="1.2" fill="#1d3f8c"/>
<circle cx="354.09" cy="230.49" r="1.2" fill="#1d3f8c"/>
<circle cx="357.25" cy="229.66" r="1.2" fill="#1d3f8c"/>
<circle cx="360.57" cy="230.6" r="1.2" fill="#1d3f8c"/>
<circle cx="352.43" cy="233.57" r="1.2" fill="#1d3f8c"/>
<circle cx="356.07" cy="233.51" r="1.2" fill="#1d3f8c"/>
<circle cx="350.78" cy="236.51" r="1.2" fill="#1d3f8c"/>
<circle cx="357.63" cy="236.71" r="1.2" fill="#1d3f8c"/>
<circle cx="350.6" cy="241.46" r="1.2" fill="#1d3f8c"/>
<circle cx="358.85" cy="240.9" r="1.2" fill="#1d3f8c"/>
<circle cx="351.38" cy="244.03" r="1.2" fill="#1d3f8c"/>
<circle cx="357.33" cy="243.81" r="1.2" fill="#1d3f8c"/>
<circle cx="350.89" cy="247.23" r="1.2" fill="#1d3f8c"/>
<circle cx="358.15" cy="247.05" r="1.2" fill="#1d3f8c"/>
<circle cx="354.5" cy="251" r="1.2" fill="#1d3f8c"/>
<line x1="347.7" y1="240.2" x2="361.3" y2="240.2" stroke="#111" stroke-width="1.4"/>
<line x1="374.5" y1="255.6" x2="374.5" y2="269" stroke="#b3123a" stroke-width="0.55"/>
<line x1="371.8" y1="255.6" x2="377.2" y2="255.6" stroke="#b3123a" stroke-width="0.9"/>
<line x1="371.8" y1="269" x2="377.2" y2="269" stroke="#b3123a" stroke-width="0.9"/>
<circle cx="374.5" cy="250.5" r="1.2" fill="#b3123a"/>
<circle cx="374.5" cy="255.6" r="1.2" fill="#b3123a"/>
<circle cx="374.5" cy="262" r="1.2" fill="#b3123a"/>
<circle cx="370.5" cy="267.16" r="1.2" fill="#b3123a"/>
<circle cx="375.01" cy="266.66" r="1.2" fill="#b3123a"/>
<circle cx="378.18" cy="266.7" r="1.2" fill="#b3123a"/>
<circle cx="369.36" cy="269.44" r="1.2" fill="#b3123a"/>
<circle cx="373.47" cy="269.92" r="1.2" fill="#b3123a"/>
<circle cx="376.69" cy="268.93" r="1.2" fill="#b3123a"/>
<circle cx="378.85" cy="269.75" r="1.2" fill="#b3123a"/>
<circle cx="372.05" cy="270.97" r="1.2" fill="#b3123a"/>
<circle cx="374.62" cy="270.4" r="1.2" fill="#b3123a"/>
<circle cx="377.35" cy="271.51" r="1.2" fill="#b3123a"/>
<line x1="367.7" y1="264.2" x2="381.3" y2="264.2" stroke="#111" stroke-width="1.4"/>
<polyline points="333.5,216.6 333.5,214.9 375,214.9 375,220" fill="none" stroke="#2a2a2a" stroke-width="1.25"/>
<polygon points="331.2,215.1 335.8,215.1 333.5,220.1" fill="#1a1a1a"/>
<polygon points="372.7,218.5 377.3,218.5 375,223.5" fill="#1a1a1a"/>
<rect x="350.52" y="210.65" width="2.1" height="1.5" fill="#333"/>
<rect x="353.25" y="210.65" width="2.1" height="1.5" fill="#333"/>
<rect x="355.98" y="210.65" width="2.1" height="1.5" fill="#333"/>
<polyline points="354.3,226.1 354.3,225.3 375,225.3 375,242.5" fill="none" stroke="#2a2a2a" stroke-width="1.25"/>
<polygon points="352,224.6 356.6,224.6 354.3,229.6" fill="#1a1a1a"/>
<polygon points="372.7,241 377.3,241 375,246" fill="#1a1a1a"/>
<rect x="362.22" y="221.05" width="2.1" height="1.5" fill="#333"/>
<rect x="364.95" y="221.05" width="2.1" height="1.5" fill="#333"/>
<rect x="367.68" y="221.05" width="2.1" height="1.5" fill="#333"/>
<text x="402.4" y="199.5" font-size="9.6" text-anchor="start" font-weight="bold" fill="#000" stroke="#000" stroke-width="0.3" textLength="7.9" lengthAdjust="spacingAndGlyphs">iv</text>
<text transform="translate(410.78,240.35) rotate(-90)" x="0" y="0" font-size="7.89" text-anchor="middle" fill="#333" stroke="#333" stroke-width="0.15" textLength="66.1" lengthAdjust="spacingAndGlyphs">Leukemia cells (10e6)</text>
<line x1="430.5" y1="208.2" x2="430.5" y2="226.7" stroke="#111" stroke-width="1.5"/>
<line x1="427.3" y1="210.8" x2="430.5" y2="210.8" stroke="#111" stroke-width="1.1"/>
<text x="424.7" y="213.2" font-size="6.9" text-anchor="end" font-weight="normal" fill="#333" stroke="#333" stroke-width="0.18">30</text>
<line x1="428.3" y1="215" x2="430.5" y2="215" stroke="#111" stroke-width="1"/>
<line x1="428.3" y1="219" x2="430.5" y2="219" stroke="#111" stroke-width="1"/>
<line x1="427.3" y1="223.2" x2="430.5" y2="223.2" stroke="#111" stroke-width="1.1"/>
<text x="424.7" y="225.6" font-size="6.9" text-anchor="end" font-weight="normal" fill="#333" stroke="#333" stroke-width="0.18">10</text>
<line x1="427.2" y1="226.7" x2="433.1" y2="226.7" stroke="#111" stroke-width="1.3"/>
<line x1="430.5" y1="231.5" x2="430.5" y2="252" stroke="#111" stroke-width="1.5"/>
<line x1="427.2" y1="231.5" x2="433.1" y2="231.5" stroke="#111" stroke-width="1.3"/>
<line x1="427.3" y1="235.5" x2="430.5" y2="235.5" stroke="#111" stroke-width="1.1"/>
<text x="424.7" y="237.9" font-size="6.9" text-anchor="end" font-weight="normal" fill="#333" stroke="#333" stroke-width="0.18">4</text>
<line x1="427.3" y1="244.2" x2="430.5" y2="244.2" stroke="#111" stroke-width="1.1"/>
<text x="424.7" y="246.6" font-size="6.9" text-anchor="end" font-weight="normal" fill="#333" stroke="#333" stroke-width="0.18">2</text>
<line x1="427.2" y1="252" x2="433.1" y2="252" stroke="#111" stroke-width="1.3"/>
<line x1="430.5" y1="256.6" x2="430.5" y2="272.2" stroke="#111" stroke-width="1.5"/>
<line x1="427.2" y1="256.6" x2="433.1" y2="256.6" stroke="#111" stroke-width="1.3"/>
<text x="424.7" y="259" font-size="6.9" text-anchor="end" font-weight="normal" fill="#333" stroke="#333" stroke-width="0.18">0.1</text>
<line x1="428.3" y1="264.4" x2="430.5" y2="264.4" stroke="#111" stroke-width="1"/>
<line x1="427.3" y1="271" x2="430.5" y2="271" stroke="#111" stroke-width="1.1"/>
<text x="424.7" y="273.4" font-size="6.9" text-anchor="end" font-weight="normal" fill="#333" stroke="#333" stroke-width="0.18">0.0</text>
<line x1="429.75" y1="272.8" x2="511.3" y2="272.8" stroke="#111" stroke-width="1.6"/>
<line x1="431.5" y1="271.3" x2="511.3" y2="271.3" stroke="#555" stroke-width="0.8" stroke-dasharray="1.1,1.2"/>
<line x1="441" y1="272.8" x2="441" y2="275.6" stroke="#111" stroke-width="1.1"/>
<text x="441" y="284.7" font-size="6.7" text-anchor="middle" font-weight="normal" fill="#333" stroke="#333" stroke-width="0.18">CTL</text>
<line x1="461" y1="272.8" x2="461" y2="275.6" stroke="#111" stroke-width="1.1"/>
<text x="461" y="284.7" font-size="6.7" text-anchor="middle" font-weight="normal" fill="#333" stroke="#333" stroke-width="0.18">CX</text>
<line x1="481.5" y1="272.8" x2="481.5" y2="275.6" stroke="#111" stroke-width="1.1"/>
<text x="481.5" y="284.7" font-size="6.7" text-anchor="middle" font-weight="normal" fill="#333" stroke="#333" stroke-width="0.18">DOX</text>
<line x1="501.5" y1="272.8" x2="501.5" y2="275.6" stroke="#111" stroke-width="1.1"/>
<text x="501.5" y="284.7" font-size="6.7" text-anchor="middle" font-weight="normal" fill="#333" stroke="#333" stroke-width="0.18">DOX+</text>
<text x="501.8" y="292.7" font-size="6.7" text-anchor="middle" font-weight="normal" fill="#333" stroke="#333" stroke-width="0.18">CX</text>
<line x1="441" y1="216.5" x2="441" y2="223" stroke="#4b0f6b" stroke-width="0.55"/>
<line x1="438.3" y1="216.5" x2="443.7" y2="216.5" stroke="#4b0f6b" stroke-width="0.9"/>
<line x1="438.3" y1="223" x2="443.7" y2="223" stroke="#4b0f6b" stroke-width="0.9"/>
<circle cx="437.96" cy="214.43" r="1.2" fill="#4b0f6b"/>
<circle cx="441.66" cy="213.7" r="1.2" fill="#4b0f6b"/>
<circle cx="443.95" cy="213.59" r="1.2" fill="#4b0f6b"/>
<circle cx="436.03" cy="216.72" r="1.2" fill="#4b0f6b"/>
<circle cx="441.62" cy="216.77" r="1.2" fill="#4b0f6b"/>
<circle cx="446.21" cy="216.82" r="1.2" fill="#4b0f6b"/>
<circle cx="435.44" cy="219.56" r="1.2" fill="#4b0f6b"/>
<circle cx="438.52" cy="219.84" r="1.2" fill="#4b0f6b"/>
<circle cx="442.46" cy="220" r="1.2" fill="#4b0f6b"/>
<circle cx="446.7" cy="219.26" r="1.2" fill="#4b0f6b"/>
<circle cx="435.48" cy="222.2" r="1.2" fill="#4b0f6b"/>
<circle cx="441.19" cy="222.74" r="1.2" fill="#4b0f6b"/>
<circle cx="445.46" cy="221.98" r="1.2" fill="#4b0f6b"/>
<circle cx="438.03" cy="225.1" r="1.2" fill="#4b0f6b"/>
<circle cx="443.84" cy="224.67" r="1.2" fill="#4b0f6b"/>
<line x1="434.2" y1="219.8" x2="447.8" y2="219.8" stroke="#111" stroke-width="1.4"/>
<line x1="461" y1="230" x2="461" y2="240" stroke="#3f9e1f" stroke-width="0.55"/>
<line x1="458.3" y1="230" x2="463.7" y2="230" stroke="#3f9e1f" stroke-width="0.9"/>
<line x1="458.3" y1="240" x2="463.7" y2="240" stroke="#3f9e1f" stroke-width="0.9"/>
<circle cx="455.64" cy="224.91" r="1.2" fill="#3f9e1f"/>
<circle cx="457.97" cy="225.45" r="1.2" fill="#3f9e1f"/>
<circle cx="461.64" cy="225.67" r="1.2" fill="#3f9e1f"/>
<circle cx="464.29" cy="225.47" r="1.2" fill="#3f9e1f"/>
<circle cx="466.13" cy="225.2" r="1.2" fill="#3f9e1f"/>
<circle cx="461" cy="232" r="1.2" fill="#3f9e1f"/>
<circle cx="459.14" cy="236.25" r="1.2" fill="#3f9e1f"/>
<circle cx="463.23" cy="235.43" r="1.2" fill="#3f9e1f"/>
<circle cx="457" cy="239.21" r="1.2" fill="#3f9e1f"/>
<circle cx="464.89" cy="238.71" r="1.2" fill="#3f9e1f"/>
<circle cx="457.23" cy="242.51" r="1.2" fill="#3f9e1f"/>
<circle cx="464.62" cy="241.44" r="1.2" fill="#3f9e1f"/>
<circle cx="458.27" cy="245.4" r="1.2" fill="#3f9e1f"/>
<circle cx="463.76" cy="245.14" r="1.2" fill="#3f9e1f"/>
<line x1="454.2" y1="234.5" x2="467.8" y2="234.5" stroke="#111" stroke-width="1.4"/>
<line x1="481.5" y1="244" x2="481.5" y2="249" stroke="#1d3f8c" stroke-width="0.55"/>
<line x1="478.8" y1="244" x2="484.2" y2="244" stroke="#1d3f8c" stroke-width="0.9"/>
<line x1="478.8" y1="249" x2="484.2" y2="249" stroke="#1d3f8c" stroke-width="0.9"/>
<circle cx="481.5" cy="241" r="1.2" fill="#1d3f8c"/>
<circle cx="477.92" cy="243.79" r="1.2" fill="#1d3f8c"/>
<circle cx="481.51" cy="243.15" r="1.2" fill="#1d3f8c"/>
<circle cx="486.16" cy="243.27" r="1.2" fill="#1d3f8c"/>
<circle cx="476.45" cy="245.68" r="1.2" fill="#1d3f8c"/>
<circle cx="479.28" cy="246.31" r="1.2" fill="#1d3f8c"/>
<circle cx="483.05" cy="246.54" r="1.2" fill="#1d3f8c"/>
<circle cx="486.99" cy="245.62" r="1.2" fill="#1d3f8c"/>
<circle cx="477.11" cy="248.4" r="1.2" fill="#1d3f8c"/>
<circle cx="481.73" cy="249.04" r="1.2" fill="#1d3f8c"/>
<circle cx="485" cy="248.37" r="1.2" fill="#1d3f8c"/>
<circle cx="479.1" cy="251.57" r="1.2" fill="#1d3f8c"/>
<circle cx="483" cy="250.46" r="1.2" fill="#1d3f8c"/>
<line x1="474.7" y1="246.4" x2="488.3" y2="246.4" stroke="#111" stroke-width="1.4"/>
<line x1="501.5" y1="261" x2="501.5" y2="268" stroke="#b3123a" stroke-width="0.55"/>
<line x1="498.8" y1="261" x2="504.2" y2="261" stroke="#b3123a" stroke-width="0.9"/>
<line x1="498.8" y1="268" x2="504.2" y2="268" stroke="#b3123a" stroke-width="0.9"/>
<circle cx="501.5" cy="258.5" r="1.2" fill="#b3123a"/>
<circle cx="496.88" cy="260.87" r="1.2" fill="#b3123a"/>
<circle cx="506.06" cy="261.46" r="1.2" fill="#b3123a"/>
<circle cx="496.83" cy="264.1" r="1.2" fill="#b3123a"/>
<circle cx="502.1" cy="263.3" r="1.2" fill="#b3123a"/>
<circle cx="506.06" cy="264.02" r="1.2" fill="#b3123a"/>
<circle cx="497.84" cy="265.94" r="1.2" fill="#b3123a"/>
<circle cx="501.73" cy="266.35" r="1.2" fill="#b3123a"/>
<circle cx="505.32" cy="266.3" r="1.2" fill="#b3123a"/>
<circle cx="497.04" cy="268.4" r="1.2" fill="#b3123a"/>
<circle cx="501.19" cy="268.82" r="1.2" fill="#b3123a"/>
<circle cx="506.14" cy="268.55" r="1.2" fill="#b3123a"/>
<circle cx="500.15" cy="271.15" r="1.2" fill="#b3123a"/>
<circle cx="503.3" cy="271.89" r="1.2" fill="#b3123a"/>
<line x1="494.7" y1="265" x2="508.3" y2="265" stroke="#111" stroke-width="1.4"/>
<polyline points="460.8,218.3 460.8,214.9 501.3,214.9 501.3,224" fill="none" stroke="#2a2a2a" stroke-width="1.25"/>
<polygon points="458.5,216.8 463.1,216.8 460.8,221.8" fill="#1a1a1a"/>
<polygon points="499,222.5 503.6,222.5 501.3,227.5" fill="#1a1a1a"/>
<rect x="476.12" y="210.65" width="2.1" height="1.5" fill="#333"/>
<rect x="478.85" y="210.65" width="2.1" height="1.5" fill="#333"/>
<rect x="481.58" y="210.65" width="2.1" height="1.5" fill="#333"/>
<polyline points="481,233.9 481,231.3 501.3,231.3 501.3,250.3" fill="none" stroke="#2a2a2a" stroke-width="1.25"/>
<polygon points="478.7,232.4 483.3,232.4 481,237.4" fill="#1a1a1a"/>
<polygon points="499,248.8 503.6,248.8 501.3,253.8" fill="#1a1a1a"/>
<rect x="487.22" y="226.75" width="2.1" height="1.5" fill="#333"/>
<rect x="489.95" y="226.75" width="2.1" height="1.5" fill="#333"/>
<rect x="492.68" y="226.75" width="2.1" height="1.5" fill="#333"/>
<text x="19.9" y="350.4" font-size="9.6" text-anchor="start" font-weight="bold" fill="#000" stroke="#000" stroke-width="0.3" textLength="2.6" lengthAdjust="spacingAndGlyphs">i</text>
<text transform="translate(27.9,394.8) rotate(-90)" x="0" y="0" font-size="9.74" text-anchor="middle" fill="#333" stroke="#333" stroke-width="0.15" textLength="52.4" lengthAdjust="spacingAndGlyphs">% leukemia cells</text>
<line x1="49.8" y1="363.9" x2="49.8" y2="381" stroke="#111" stroke-width="1.5"/>
<line x1="46.6" y1="366.3" x2="49.8" y2="366.3" stroke="#111" stroke-width="1.1"/>
<text x="44" y="368.7" font-size="6.9" text-anchor="end" font-weight="normal" fill="#333" stroke="#333" stroke-width="0.18">80</text>
<line x1="47.6" y1="372.3" x2="49.8" y2="372.3" stroke="#111" stroke-width="1"/>
<line x1="46.6" y1="378.1" x2="49.8" y2="378.1" stroke="#111" stroke-width="1.1"/>
<text x="44" y="380.5" font-size="6.9" text-anchor="end" font-weight="normal" fill="#333" stroke="#333" stroke-width="0.18">40</text>
<line x1="46.5" y1="381" x2="52.4" y2="381" stroke="#111" stroke-width="1.3"/>
<line x1="49.8" y1="385.3" x2="49.8" y2="404.4" stroke="#111" stroke-width="1.5"/>
<line x1="46.5" y1="385.3" x2="52.4" y2="385.3" stroke="#111" stroke-width="1.3"/>
<text x="44" y="387.7" font-size="6.9" text-anchor="end" font-weight="normal" fill="#333" stroke="#333" stroke-width="0.18">30</text>
<line x1="46.6" y1="395" x2="49.8" y2="395" stroke="#111" stroke-width="1.1"/>
<text x="44" y="397.4" font-size="6.9" text-anchor="end" font-weight="normal" fill="#333" stroke="#333" stroke-width="0.18">20</text>
<line x1="46.5" y1="404.4" x2="52.4" y2="404.4" stroke="#111" stroke-width="1.3"/>
<line x1="49.8" y1="408.7" x2="49.8" y2="423" stroke="#111" stroke-width="1.5"/>
<line x1="46.5" y1="408.7" x2="52.4" y2="408.7" stroke="#111" stroke-width="1.3"/>
<text x="44" y="411.1" font-size="6.9" text-anchor="end" font-weight="normal" fill="#333" stroke="#333" stroke-width="0.18">10</text>
<line x1="47.6" y1="415.6" x2="49.8" y2="415.6" stroke="#111" stroke-width="1"/>
<line x1="46.6" y1="422.7" x2="49.8" y2="422.7" stroke="#111" stroke-width="1.1"/>
<text x="44" y="425.1" font-size="6.9" text-anchor="end" font-weight="normal" fill="#333" stroke="#333" stroke-width="0.18">0</text>
<line x1="49.05" y1="423.6" x2="129.9" y2="423.6" stroke="#111" stroke-width="1.6"/>
<line x1="60.2" y1="423.6" x2="60.2" y2="426.4" stroke="#111" stroke-width="1.1"/>
<text x="60.2" y="435.5" font-size="6.7" text-anchor="middle" font-weight="normal" fill="#333" stroke="#333" stroke-width="0.18">CTL</text>
<line x1="80" y1="423.6" x2="80" y2="426.4" stroke="#111" stroke-width="1.1"/>
<text x="80" y="435.5" font-size="6.7" text-anchor="middle" font-weight="normal" fill="#333" stroke="#333" stroke-width="0.18">CX</text>
<line x1="100.5" y1="423.6" x2="100.5" y2="426.4" stroke="#111" stroke-width="1.1"/>
<text x="100.5" y="435.5" font-size="6.7" text-anchor="middle" font-weight="normal" fill="#333" stroke="#333" stroke-width="0.18">DOX</text>
<line x1="120.5" y1="423.6" x2="120.5" y2="426.4" stroke="#111" stroke-width="1.1"/>
<text x="120.5" y="435.5" font-size="6.7" text-anchor="middle" font-weight="normal" fill="#333" stroke="#333" stroke-width="0.18">DOX+</text>
<text x="120.8" y="443.5" font-size="6.7" text-anchor="middle" font-weight="normal" fill="#333" stroke="#333" stroke-width="0.18">CX</text>
<line x1="60.2" y1="370" x2="60.2" y2="376.5" stroke="#4b0f6b" stroke-width="0.55"/>
<line x1="57.5" y1="370" x2="62.9" y2="370" stroke="#4b0f6b" stroke-width="0.9"/>
<line x1="57.5" y1="376.5" x2="62.9" y2="376.5" stroke="#4b0f6b" stroke-width="0.9"/>
<circle cx="56.65" cy="366.42" r="1.2" fill="#4b0f6b"/>
<circle cx="63.57" cy="366.47" r="1.2" fill="#4b0f6b"/>
<circle cx="56.02" cy="369" r="1.2" fill="#4b0f6b"/>
<circle cx="59.77" cy="368.34" r="1.2" fill="#4b0f6b"/>
<circle cx="64.76" cy="367.94" r="1.2" fill="#4b0f6b"/>
<circle cx="55.08" cy="371.87" r="1.2" fill="#4b0f6b"/>
<circle cx="60.57" cy="370.95" r="1.2" fill="#4b0f6b"/>
<circle cx="64.55" cy="370.98" r="1.2" fill="#4b0f6b"/>
<circle cx="55.29" cy="374.21" r="1.2" fill="#4b0f6b"/>
<circle cx="60.55" cy="374.98" r="1.2" fill="#4b0f6b"/>
<circle cx="65.47" cy="374.23" r="1.2" fill="#4b0f6b"/>
<circle cx="57.34" cy="378.14" r="1.2" fill="#4b0f6b"/>
<circle cx="59.87" cy="378.26" r="1.2" fill="#4b0f6b"/>
<circle cx="63.44" cy="377.73" r="1.2" fill="#4b0f6b"/>
<line x1="53.4" y1="373.4" x2="67" y2="373.4" stroke="#111" stroke-width="1.4"/>
<line x1="80" y1="385.8" x2="80" y2="401.5" stroke="#3f9e1f" stroke-width="0.55"/>
<line x1="77.3" y1="385.8" x2="82.7" y2="385.8" stroke="#3f9e1f" stroke-width="0.9"/>
<line x1="77.3" y1="401.5" x2="82.7" y2="401.5" stroke="#3f9e1f" stroke-width="0.9"/>
<circle cx="82.5" cy="378.8" r="1.2" fill="#3f9e1f"/>
<circle cx="79" cy="380.8" r="1.2" fill="#3f9e1f"/>
<circle cx="80" cy="390.5" r="1.2" fill="#3f9e1f"/>
<circle cx="77" cy="393.5" r="1.2" fill="#3f9e1f"/>
<circle cx="83" cy="394" r="1.2" fill="#3f9e1f"/>
<circle cx="76" cy="397.5" r="1.2" fill="#3f9e1f"/>
<circle cx="84.5" cy="396.5" r="1.2" fill="#3f9e1f"/>
<circle cx="78" cy="401.5" r="1.2" fill="#3f9e1f"/>
<circle cx="81" cy="402" r="1.2" fill="#3f9e1f"/>
<circle cx="84" cy="401" r="1.2" fill="#3f9e1f"/>
<line x1="73.2" y1="393.6" x2="86.8" y2="393.6" stroke="#111" stroke-width="1.4"/>
<line x1="100.5" y1="393" x2="100.5" y2="398" stroke="#1d3f8c" stroke-width="0.55"/>
<line x1="97.8" y1="393" x2="103.2" y2="393" stroke="#1d3f8c" stroke-width="0.9"/>
<line x1="97.8" y1="398" x2="103.2" y2="398" stroke="#1d3f8c" stroke-width="0.9"/>
<circle cx="100.5" cy="390.5" r="1.2" fill="#1d3f8c"/>
<circle cx="96.81" cy="393.31" r="1.2" fill="#1d3f8c"/>
<circle cx="101.08" cy="393.16" r="1.2" fill="#1d3f8c"/>
<circle cx="104.12" cy="392.43" r="1.2" fill="#1d3f8c"/>
<circle cx="95.13" cy="394.97" r="1.2" fill="#1d3f8c"/>
<circle cx="101.14" cy="395.54" r="1.2" fill="#1d3f8c"/>
<circle cx="105.34" cy="394.7" r="1.2" fill="#1d3f8c"/>
<circle cx="96.9" cy="397.49" r="1.2" fill="#1d3f8c"/>
<circle cx="101.1" cy="397.12" r="1.2" fill="#1d3f8c"/>
<circle cx="104.42" cy="397.79" r="1.2" fill="#1d3f8c"/>
<circle cx="98.95" cy="400.33" r="1.2" fill="#1d3f8c"/>
<circle cx="102.65" cy="399.79" r="1.2" fill="#1d3f8c"/>
<line x1="93.7" y1="395.5" x2="107.3" y2="395.5" stroke="#111" stroke-width="1.4"/>
<line x1="120.5" y1="413" x2="120.5" y2="419.5" stroke="#b3123a" stroke-width="0.55"/>
<line x1="117.8" y1="413" x2="123.2" y2="413" stroke="#b3123a" stroke-width="0.9"/>
<line x1="117.8" y1="419.5" x2="123.2" y2="419.5" stroke="#b3123a" stroke-width="0.9"/>
<circle cx="116.25" cy="412.33" r="1.2" fill="#b3123a"/>
<circle cx="119.56" cy="411.99" r="1.2" fill="#b3123a"/>
<circle cx="121.41" cy="412.8" r="1.2" fill="#b3123a"/>
<circle cx="124.15" cy="411.98" r="1.2" fill="#b3123a"/>
<circle cx="116.85" cy="414.06" r="1.2" fill="#b3123a"/>
<circle cx="120.26" cy="414.58" r="1.2" fill="#b3123a"/>
<circle cx="124.04" cy="414.59" r="1.2" fill="#b3123a"/>
<circle cx="117.67" cy="419" r="1.2" fill="#b3123a"/>
<circle cx="122.43" cy="419.5" r="1.2" fill="#b3123a"/>
<line x1="113.7" y1="415" x2="127.3" y2="415" stroke="#111" stroke-width="1.4"/>
<polyline points="80.3,370.5 80.3,366.3 120.9,366.3 120.9,376.1" fill="none" stroke="#2a2a2a" stroke-width="1.25"/>
<polygon points="78,369 82.6,369 80.3,374" fill="#1a1a1a"/>
<polygon points="118.6,374.6 123.2,374.6 120.9,379.6" fill="#1a1a1a"/>
<rect x="96.12" y="362.05" width="2.1" height="1.5" fill="#333"/>
<rect x="98.85" y="362.05" width="2.1" height="1.5" fill="#333"/>
<rect x="101.58" y="362.05" width="2.1" height="1.5" fill="#333"/>
<polyline points="100.2,385.6 100.2,384.3 120.9,384.3 120.9,404.1" fill="none" stroke="#2a2a2a" stroke-width="1.25"/>
<polygon points="97.9,384.1 102.5,384.1 100.2,389.1" fill="#1a1a1a"/>
<polygon points="118.6,402.6 123.2,402.6 120.9,407.6" fill="#1a1a1a"/>
<rect x="108.15" y="380.05" width="2.1" height="1.5" fill="#333"/>
<rect x="110.75" y="380.05" width="2.1" height="1.5" fill="#333"/>
<text x="148.3" y="350.4" font-size="9.6" text-anchor="start" font-weight="bold" fill="#000" stroke="#000" stroke-width="0.3" textLength="5.3" lengthAdjust="spacingAndGlyphs">ii</text>
<text transform="translate(155.02,391) rotate(-90)" x="0" y="0" font-size="8.22" text-anchor="middle" fill="#333" stroke="#333" stroke-width="0.15" textLength="66" lengthAdjust="spacingAndGlyphs">Leukemia cells (10e6)</text>
<line x1="176.3" y1="360.4" x2="176.3" y2="377.7" stroke="#111" stroke-width="1.5"/>
<line x1="173.1" y1="362.5" x2="176.3" y2="362.5" stroke="#111" stroke-width="1.1"/>
<text x="170.5" y="364.9" font-size="6.9" text-anchor="end" font-weight="normal" fill="#333" stroke="#333" stroke-width="0.18">30</text>
<line x1="174.1" y1="366.5" x2="176.3" y2="366.5" stroke="#111" stroke-width="1"/>
<line x1="174.1" y1="371" x2="176.3" y2="371" stroke="#111" stroke-width="1"/>
<line x1="173.1" y1="375.5" x2="176.3" y2="375.5" stroke="#111" stroke-width="1.1"/>
<text x="170.5" y="377.9" font-size="6.9" text-anchor="end" font-weight="normal" fill="#333" stroke="#333" stroke-width="0.18">10</text>
<line x1="173" y1="377.7" x2="178.9" y2="377.7" stroke="#111" stroke-width="1.3"/>
<line x1="176.3" y1="382.9" x2="176.3" y2="403.1" stroke="#111" stroke-width="1.5"/>
<line x1="173" y1="382.9" x2="178.9" y2="382.9" stroke="#111" stroke-width="1.3"/>
<line x1="173.1" y1="387.6" x2="176.3" y2="387.6" stroke="#111" stroke-width="1.1"/>
<text x="170.5" y="390" font-size="6.9" text-anchor="end" font-weight="normal" fill="#333" stroke="#333" stroke-width="0.18">4</text>
<line x1="173.1" y1="398" x2="176.3" y2="398" stroke="#111" stroke-width="1.1"/>
<text x="170.5" y="400.4" font-size="6.9" text-anchor="end" font-weight="normal" fill="#333" stroke="#333" stroke-width="0.18">2</text>
<line x1="173" y1="403.1" x2="178.9" y2="403.1" stroke="#111" stroke-width="1.3"/>
<line x1="176.3" y1="408" x2="176.3" y2="423" stroke="#111" stroke-width="1.5"/>
<line x1="173" y1="408" x2="178.9" y2="408" stroke="#111" stroke-width="1.3"/>
<text x="170.5" y="410.4" font-size="6.9" text-anchor="end" font-weight="normal" fill="#333" stroke="#333" stroke-width="0.18">1</text>
<line x1="174.1" y1="415.3" x2="176.3" y2="415.3" stroke="#111" stroke-width="1"/>
<line x1="173.1" y1="422.7" x2="176.3" y2="422.7" stroke="#111" stroke-width="1.1"/>
<text x="170.5" y="425.1" font-size="6.9" text-anchor="end" font-weight="normal" fill="#333" stroke="#333" stroke-width="0.18">0</text>
<line x1="175.55" y1="423.6" x2="259.6" y2="423.6" stroke="#111" stroke-width="1.6"/>
<line x1="186.5" y1="423.6" x2="186.5" y2="426.4" stroke="#111" stroke-width="1.1"/>
<text x="186.5" y="435.5" font-size="6.7" text-anchor="middle" font-weight="normal" fill="#333" stroke="#333" stroke-width="0.18">CTL</text>
<line x1="207.5" y1="423.6" x2="207.5" y2="426.4" stroke="#111" stroke-width="1.1"/>
<text x="207.5" y="435.5" font-size="6.7" text-anchor="middle" font-weight="normal" fill="#333" stroke="#333" stroke-width="0.18">CX</text>
<line x1="228" y1="423.6" x2="228" y2="426.4" stroke="#111" stroke-width="1.1"/>
<text x="228" y="435.5" font-size="6.7" text-anchor="middle" font-weight="normal" fill="#333" stroke="#333" stroke-width="0.18">DOX</text>
<line x1="249" y1="423.6" x2="249" y2="426.4" stroke="#111" stroke-width="1.1"/>
<text x="249" y="435.5" font-size="6.7" text-anchor="middle" font-weight="normal" fill="#333" stroke="#333" stroke-width="0.18">DOX+</text>
<text x="249.3" y="443.5" font-size="6.7" text-anchor="middle" font-weight="normal" fill="#333" stroke="#333" stroke-width="0.18">CX</text>
<line x1="186.5" y1="368" x2="186.5" y2="372.5" stroke="#4b0f6b" stroke-width="0.55"/>
<line x1="183.8" y1="368" x2="189.2" y2="368" stroke="#4b0f6b" stroke-width="0.9"/>
<line x1="183.8" y1="372.5" x2="189.2" y2="372.5" stroke="#4b0f6b" stroke-width="0.9"/>
<circle cx="186.5" cy="365" r="1.2" fill="#4b0f6b"/>
<circle cx="181.79" cy="368.44" r="1.2" fill="#4b0f6b"/>
<circle cx="184.46" cy="368.4" r="1.2" fill="#4b0f6b"/>
<circle cx="188.34" cy="368.71" r="1.2" fill="#4b0f6b"/>
<circle cx="191.85" cy="368.92" r="1.2" fill="#4b0f6b"/>
<circle cx="181.23" cy="370.05" r="1.2" fill="#4b0f6b"/>
<circle cx="185.14" cy="370.25" r="1.2" fill="#4b0f6b"/>
<circle cx="188.43" cy="370.35" r="1.2" fill="#4b0f6b"/>
<circle cx="192.33" cy="370.14" r="1.2" fill="#4b0f6b"/>
<circle cx="182.65" cy="372.69" r="1.2" fill="#4b0f6b"/>
<circle cx="186.01" cy="373.46" r="1.2" fill="#4b0f6b"/>
<circle cx="190.11" cy="372.79" r="1.2" fill="#4b0f6b"/>
<line x1="179.7" y1="370.3" x2="193.3" y2="370.3" stroke="#111" stroke-width="1.4"/>
<circle cx="201.85" cy="377.89" r="1.2" fill="#3f9e1f"/>
<circle cx="204.21" cy="376.98" r="1.2" fill="#3f9e1f"/>
<circle cx="206.83" cy="377.48" r="1.2" fill="#3f9e1f"/>
<circle cx="209.29" cy="376.82" r="1.2" fill="#3f9e1f"/>
<circle cx="210.76" cy="377.68" r="1.2" fill="#3f9e1f"/>
<circle cx="213.48" cy="377.8" r="1.2" fill="#3f9e1f"/>
<circle cx="204.36" cy="383.75" r="1.2" fill="#3f9e1f"/>
<circle cx="209.47" cy="383.63" r="1.2" fill="#3f9e1f"/>
<circle cx="207.5" cy="386" r="1.2" fill="#3f9e1f"/>
<circle cx="206.16" cy="390.1" r="1.2" fill="#3f9e1f"/>
<circle cx="210.1" cy="389.85" r="1.2" fill="#3f9e1f"/>
<circle cx="204.01" cy="393.44" r="1.2" fill="#3f9e1f"/>
<circle cx="211.16" cy="393.83" r="1.2" fill="#3f9e1f"/>
<circle cx="207.5" cy="396" r="1.2" fill="#3f9e1f"/>
<line x1="200.7" y1="377.7" x2="214.3" y2="377.7" stroke="#111" stroke-width="1.4"/>
<line x1="228" y1="390" x2="228" y2="396" stroke="#1d3f8c" stroke-width="0.55"/>
<line x1="225.3" y1="390" x2="230.7" y2="390" stroke="#1d3f8c" stroke-width="0.9"/>
<line x1="225.3" y1="396" x2="230.7" y2="396" stroke="#1d3f8c" stroke-width="0.9"/>
<circle cx="223.62" cy="386.53" r="1.2" fill="#1d3f8c"/>
<circle cx="233.13" cy="387.14" r="1.2" fill="#1d3f8c"/>
<circle cx="224.6" cy="389.34" r="1.2" fill="#1d3f8c"/>
<circle cx="230.5" cy="389.14" r="1.2" fill="#1d3f8c"/>
<circle cx="222.66" cy="392.12" r="1.2" fill="#1d3f8c"/>
<circle cx="228.21" cy="391.64" r="1.2" fill="#1d3f8c"/>
<circle cx="232.32" cy="391.79" r="1.2" fill="#1d3f8c"/>
<circle cx="225.25" cy="395.12" r="1.2" fill="#1d3f8c"/>
<circle cx="230.74" cy="395.14" r="1.2" fill="#1d3f8c"/>
<circle cx="226.41" cy="397.56" r="1.2" fill="#1d3f8c"/>
<circle cx="229.39" cy="397.02" r="1.2" fill="#1d3f8c"/>
<circle cx="228" cy="400" r="1.2" fill="#1d3f8c"/>
<line x1="221.2" y1="393.1" x2="234.8" y2="393.1" stroke="#111" stroke-width="1.4"/>
<line x1="249" y1="410" x2="249" y2="416" stroke="#b3123a" stroke-width="0.55"/>
<line x1="246.3" y1="410" x2="251.7" y2="410" stroke="#b3123a" stroke-width="0.9"/>
<line x1="246.3" y1="416" x2="251.7" y2="416" stroke="#b3123a" stroke-width="0.9"/>
<circle cx="244.85" cy="407.56" r="1.2" fill="#b3123a"/>
<circle cx="253.19" cy="407.01" r="1.2" fill="#b3123a"/>
<circle cx="244.03" cy="410.23" r="1.2" fill="#b3123a"/>
<circle cx="248.87" cy="409.74" r="1.2" fill="#b3123a"/>
<circle cx="253.23" cy="410.54" r="1.2" fill="#b3123a"/>
<circle cx="243.74" cy="413.08" r="1.2" fill="#b3123a"/>
<circle cx="253.8" cy="412.9" r="1.2" fill="#b3123a"/>
<circle cx="245.51" cy="416.6" r="1.2" fill="#b3123a"/>
<circle cx="248.81" cy="415.64" r="1.2" fill="#b3123a"/>
<circle cx="253.32" cy="415.64" r="1.2" fill="#b3123a"/>
<circle cx="245.81" cy="419.98" r="1.2" fill="#b3123a"/>
<circle cx="251.39" cy="419.88" r="1.2" fill="#b3123a"/>
<line x1="242.2" y1="413.3" x2="255.8" y2="413.3" stroke="#111" stroke-width="1.4"/>
<polyline points="207.3,370.5 207.3,366.3 249.2,366.3 249.2,376.1" fill="none" stroke="#2a2a2a" stroke-width="1.25"/>
<polygon points="205,369 209.6,369 207.3,374" fill="#1a1a1a"/>
<polygon points="246.9,374.6 251.5,374.6 249.2,379.6" fill="#1a1a1a"/>
<rect x="223.22" y="362.05" width="2.1" height="1.5" fill="#333"/>
<rect x="225.95" y="362.05" width="2.1" height="1.5" fill="#333"/>
<rect x="228.68" y="362.05" width="2.1" height="1.5" fill="#333"/>
<polyline points="229,383.4 229,381.9 249.2,381.9 249.2,402.4" fill="none" stroke="#2a2a2a" stroke-width="1.25"/>
<polygon points="226.7,381.9 231.3,381.9 229,386.9" fill="#1a1a1a"/>
<polygon points="246.9,400.9 251.5,400.9 249.2,405.9" fill="#1a1a1a"/>
<rect x="235.72" y="377.65" width="2.1" height="1.5" fill="#333"/>
<rect x="238.45" y="377.65" width="2.1" height="1.5" fill="#333"/>
<rect x="241.18" y="377.65" width="2.1" height="1.5" fill="#333"/>
<text x="275.6" y="350.4" font-size="9.6" text-anchor="start" font-weight="bold" fill="#000" stroke="#000" stroke-width="0.3" textLength="7.5" lengthAdjust="spacingAndGlyphs">iii</text>
<text transform="translate(283.3,392.5) rotate(-90)" x="0" y="0" font-size="9.47" text-anchor="middle" fill="#333" stroke="#333" stroke-width="0.15" textLength="51.4" lengthAdjust="spacingAndGlyphs">% leukemia cells</text>
<line x1="303.4" y1="359.4" x2="303.4" y2="377.2" stroke="#111" stroke-width="1.5"/>
<line x1="300.2" y1="362.1" x2="303.4" y2="362.1" stroke="#111" stroke-width="1.1"/>
<text x="297.6" y="364.5" font-size="6.9" text-anchor="end" font-weight="normal" fill="#333" stroke="#333" stroke-width="0.18">40</text>
<line x1="301.2" y1="367" x2="303.4" y2="367" stroke="#111" stroke-width="1"/>
<line x1="300.2" y1="372.4" x2="303.4" y2="372.4" stroke="#111" stroke-width="1.1"/>
<text x="297.6" y="374.8" font-size="6.9" text-anchor="end" font-weight="normal" fill="#333" stroke="#333" stroke-width="0.18">20</text>
<line x1="300.1" y1="377.2" x2="306" y2="377.2" stroke="#111" stroke-width="1.3"/>
<line x1="303.4" y1="381.9" x2="303.4" y2="403.1" stroke="#111" stroke-width="1.5"/>
<line x1="300.1" y1="381.9" x2="306" y2="381.9" stroke="#111" stroke-width="1.3"/>
<text x="297.6" y="384.3" font-size="6.9" text-anchor="end" font-weight="normal" fill="#333" stroke="#333" stroke-width="0.18">10</text>
<line x1="300.2" y1="401.4" x2="303.4" y2="401.4" stroke="#111" stroke-width="1.1"/>
<text x="297.6" y="403.8" font-size="6.9" text-anchor="end" font-weight="normal" fill="#333" stroke="#333" stroke-width="0.18">5</text>
<line x1="300.1" y1="403.1" x2="306" y2="403.1" stroke="#111" stroke-width="1.3"/>
<line x1="303.4" y1="407.8" x2="303.4" y2="423" stroke="#111" stroke-width="1.5"/>
<line x1="300.1" y1="407.8" x2="306" y2="407.8" stroke="#111" stroke-width="1.3"/>
<line x1="300.2" y1="409.3" x2="303.4" y2="409.3" stroke="#111" stroke-width="1.1"/>
<text x="297.6" y="411.7" font-size="6.9" text-anchor="end" font-weight="normal" fill="#333" stroke="#333" stroke-width="0.18">4</text>
<line x1="300.2" y1="416.1" x2="303.4" y2="416.1" stroke="#111" stroke-width="1.1"/>
<text x="297.6" y="418.5" font-size="6.9" text-anchor="end" font-weight="normal" fill="#333" stroke="#333" stroke-width="0.18">2</text>
<line x1="300.2" y1="422.7" x2="303.4" y2="422.7" stroke="#111" stroke-width="1.1"/>
<text x="297.6" y="425.1" font-size="6.9" text-anchor="end" font-weight="normal" fill="#333" stroke="#333" stroke-width="0.18">0</text>
<line x1="302.65" y1="423.6" x2="386" y2="423.6" stroke="#111" stroke-width="1.6"/>
<line x1="314" y1="423.6" x2="314" y2="426.4" stroke="#111" stroke-width="1.1"/>
<text x="314" y="435.5" font-size="6.7" text-anchor="middle" font-weight="normal" fill="#333" stroke="#333" stroke-width="0.18">CTL</text>
<line x1="334.5" y1="423.6" x2="334.5" y2="426.4" stroke="#111" stroke-width="1.1"/>
<text x="334.5" y="435.5" font-size="6.7" text-anchor="middle" font-weight="normal" fill="#333" stroke="#333" stroke-width="0.18">CX</text>
<line x1="355" y1="423.6" x2="355" y2="426.4" stroke="#111" stroke-width="1.1"/>
<text x="355" y="435.5" font-size="6.7" text-anchor="middle" font-weight="normal" fill="#333" stroke="#333" stroke-width="0.18">DOX</text>
<line x1="375.5" y1="423.6" x2="375.5" y2="426.4" stroke="#111" stroke-width="1.1"/>
<text x="375.5" y="435.5" font-size="6.7" text-anchor="middle" font-weight="normal" fill="#333" stroke="#333" stroke-width="0.18">DOX+</text>
<text x="375.8" y="443.5" font-size="6.7" text-anchor="middle" font-weight="normal" fill="#333" stroke="#333" stroke-width="0.18">CX</text>
<line x1="314" y1="366" x2="314" y2="374" stroke="#4b0f6b" stroke-width="0.55"/>
<line x1="311.3" y1="366" x2="316.7" y2="366" stroke="#4b0f6b" stroke-width="0.9"/>
<line x1="311.3" y1="374" x2="316.7" y2="374" stroke="#4b0f6b" stroke-width="0.9"/>
<circle cx="310.87" cy="361.96" r="1.2" fill="#4b0f6b"/>
<circle cx="316.95" cy="361.1" r="1.2" fill="#4b0f6b"/>
<circle cx="311.32" cy="364.56" r="1.2" fill="#4b0f6b"/>
<circle cx="316.2" cy="364.99" r="1.2" fill="#4b0f6b"/>
<circle cx="309.92" cy="367.65" r="1.2" fill="#4b0f6b"/>
<circle cx="317.32" cy="367.51" r="1.2" fill="#4b0f6b"/>
<circle cx="308.5" cy="370.24" r="1.2" fill="#4b0f6b"/>
<circle cx="314.03" cy="371.01" r="1.2" fill="#4b0f6b"/>
<circle cx="318.45" cy="370.49" r="1.2" fill="#4b0f6b"/>
<circle cx="309.43" cy="374.56" r="1.2" fill="#4b0f6b"/>
<circle cx="313.58" cy="373.55" r="1.2" fill="#4b0f6b"/>
<circle cx="319.62" cy="374.57" r="1.2" fill="#4b0f6b"/>
<circle cx="310.98" cy="375.96" r="1.2" fill="#4b0f6b"/>
<circle cx="317.6" cy="376.37" r="1.2" fill="#4b0f6b"/>
<line x1="307.2" y1="370.3" x2="320.8" y2="370.3" stroke="#111" stroke-width="1.4"/>
<line x1="334.5" y1="380" x2="334.5" y2="389" stroke="#3f9e1f" stroke-width="0.55"/>
<line x1="331.8" y1="380" x2="337.2" y2="380" stroke="#3f9e1f" stroke-width="0.9"/>
<line x1="331.8" y1="389" x2="337.2" y2="389" stroke="#3f9e1f" stroke-width="0.9"/>
<circle cx="329.57" cy="376.64" r="1.2" fill="#3f9e1f"/>
<circle cx="333.12" cy="376.09" r="1.2" fill="#3f9e1f"/>
<circle cx="336.73" cy="376.17" r="1.2" fill="#3f9e1f"/>
<circle cx="339.87" cy="376.92" r="1.2" fill="#3f9e1f"/>
<circle cx="334.5" cy="382" r="1.2" fill="#3f9e1f"/>
<circle cx="332.96" cy="385.62" r="1.2" fill="#3f9e1f"/>
<circle cx="336.11" cy="385.88" r="1.2" fill="#3f9e1f"/>
<circle cx="329.53" cy="389.36" r="1.2" fill="#3f9e1f"/>
<circle cx="333.97" cy="389.2" r="1.2" fill="#3f9e1f"/>
<circle cx="339.81" cy="389.98" r="1.2" fill="#3f9e1f"/>
<circle cx="330.86" cy="392.57" r="1.2" fill="#3f9e1f"/>
<circle cx="337.86" cy="391.95" r="1.2" fill="#3f9e1f"/>
<line x1="327.7" y1="383.3" x2="341.3" y2="383.3" stroke="#111" stroke-width="1.4"/>
<line x1="355" y1="397" x2="355" y2="403" stroke="#1d3f8c" stroke-width="0.55"/>
<line x1="352.3" y1="397" x2="357.7" y2="397" stroke="#1d3f8c" stroke-width="0.9"/>
<line x1="352.3" y1="403" x2="357.7" y2="403" stroke="#1d3f8c" stroke-width="0.9"/>
<circle cx="355" cy="393.5" r="1.2" fill="#1d3f8c"/>
<circle cx="352.47" cy="396.54" r="1.2" fill="#1d3f8c"/>
<circle cx="358.14" cy="397.06" r="1.2" fill="#1d3f8c"/>
<circle cx="350.18" cy="399.77" r="1.2" fill="#1d3f8c"/>
<circle cx="354.89" cy="400.1" r="1.2" fill="#1d3f8c"/>
<circle cx="359.9" cy="400.19" r="1.2" fill="#1d3f8c"/>
<circle cx="352.93" cy="402.93" r="1.2" fill="#1d3f8c"/>
<circle cx="356.33" cy="403.14" r="1.2" fill="#1d3f8c"/>
<circle cx="349.49" cy="408.18" r="1.2" fill="#1d3f8c"/>
<circle cx="352.62" cy="408.84" r="1.2" fill="#1d3f8c"/>
<circle cx="354.94" cy="408.12" r="1.2" fill="#1d3f8c"/>
<circle cx="357.71" cy="408.03" r="1.2" fill="#1d3f8c"/>
<circle cx="359.98" cy="408.42" r="1.2" fill="#1d3f8c"/>
<line x1="348.2" y1="400.6" x2="361.8" y2="400.6" stroke="#111" stroke-width="1.4"/>
<line x1="375.5" y1="413" x2="375.5" y2="419" stroke="#b3123a" stroke-width="0.55"/>
<line x1="372.8" y1="413" x2="378.2" y2="413" stroke="#b3123a" stroke-width="0.9"/>
<line x1="372.8" y1="419" x2="378.2" y2="419" stroke="#b3123a" stroke-width="0.9"/>
<circle cx="372.43" cy="409.93" r="1.2" fill="#b3123a"/>
<circle cx="378.01" cy="409.45" r="1.2" fill="#b3123a"/>
<circle cx="371.69" cy="412.5" r="1.2" fill="#b3123a"/>
<circle cx="375.83" cy="413.33" r="1.2" fill="#b3123a"/>
<circle cx="379.52" cy="412.47" r="1.2" fill="#b3123a"/>
<circle cx="370.51" cy="415.85" r="1.2" fill="#b3123a"/>
<circle cx="381.13" cy="415.56" r="1.2" fill="#b3123a"/>
<circle cx="372" cy="419.6" r="1.2" fill="#b3123a"/>
<circle cx="375.82" cy="419.38" r="1.2" fill="#b3123a"/>
<circle cx="379.07" cy="419.58" r="1.2" fill="#b3123a"/>
<circle cx="373.49" cy="422.05" r="1.2" fill="#b3123a"/>
<circle cx="378.08" cy="421.1" r="1.2" fill="#b3123a"/>
<line x1="368.7" y1="416.3" x2="382.3" y2="416.3" stroke="#111" stroke-width="1.4"/>
<polyline points="334.4,370 334.4,365.4 375.6,365.4 375.6,375.6" fill="none" stroke="#2a2a2a" stroke-width="1.25"/>
<polygon points="332.1,368.5 336.7,368.5 334.4,373.5" fill="#1a1a1a"/>
<polygon points="373.3,374.1 377.9,374.1 375.6,379.1" fill="#1a1a1a"/>
<rect x="351.12" y="361.25" width="2.1" height="1.5" fill="#333"/>
<rect x="353.85" y="361.25" width="2.1" height="1.5" fill="#333"/>
<rect x="356.58" y="361.25" width="2.1" height="1.5" fill="#333"/>
<polyline points="355.2,387.9 355.2,381.3 375.6,381.3 375.6,404.1" fill="none" stroke="#2a2a2a" stroke-width="1.25"/>
<polygon points="352.9,386.4 357.5,386.4 355.2,391.4" fill="#1a1a1a"/>
<polygon points="373.3,402.6 377.9,402.6 375.6,407.6" fill="#1a1a1a"/>
<rect x="362.22" y="377.15" width="2.1" height="1.5" fill="#333"/>
<rect x="364.95" y="377.15" width="2.1" height="1.5" fill="#333"/>
<rect x="367.68" y="377.15" width="2.1" height="1.5" fill="#333"/>
<text x="402.4" y="350.4" font-size="9.6" text-anchor="start" font-weight="bold" fill="#000" stroke="#000" stroke-width="0.3" textLength="7.9" lengthAdjust="spacingAndGlyphs">iv</text>
<text transform="translate(410.34,389.75) rotate(-90)" x="0" y="0" font-size="8.11" text-anchor="middle" fill="#333" stroke="#333" stroke-width="0.15" textLength="67.3" lengthAdjust="spacingAndGlyphs">Leukemia cells (10e6)</text>
<line x1="430.5" y1="359" x2="430.5" y2="376.9" stroke="#111" stroke-width="1.5"/>
<line x1="427.3" y1="361.6" x2="430.5" y2="361.6" stroke="#111" stroke-width="1.1"/>
<text x="424.7" y="364" font-size="6.9" text-anchor="end" font-weight="normal" fill="#333" stroke="#333" stroke-width="0.18">20</text>
<line x1="428.3" y1="366.5" x2="430.5" y2="366.5" stroke="#111" stroke-width="1"/>
<line x1="427.3" y1="371.7" x2="430.5" y2="371.7" stroke="#111" stroke-width="1.1"/>
<text x="424.7" y="374.1" font-size="6.9" text-anchor="end" font-weight="normal" fill="#333" stroke="#333" stroke-width="0.18">10</text>
<line x1="427.2" y1="376.9" x2="433.1" y2="376.9" stroke="#111" stroke-width="1.3"/>
<line x1="430.5" y1="381.5" x2="430.5" y2="402.6" stroke="#111" stroke-width="1.5"/>
<line x1="427.2" y1="381.5" x2="433.1" y2="381.5" stroke="#111" stroke-width="1.3"/>
<text x="424.7" y="383.9" font-size="6.9" text-anchor="end" font-weight="normal" fill="#333" stroke="#333" stroke-width="0.18">4</text>
<line x1="427.3" y1="394" x2="430.5" y2="394" stroke="#111" stroke-width="1.1"/>
<text x="424.7" y="396.4" font-size="6.9" text-anchor="end" font-weight="normal" fill="#333" stroke="#333" stroke-width="0.18">2</text>
<line x1="427.2" y1="402.6" x2="433.1" y2="402.6" stroke="#111" stroke-width="1.3"/>
<line x1="430.5" y1="407.8" x2="430.5" y2="422" stroke="#111" stroke-width="1.5"/>
<line x1="427.2" y1="407.8" x2="433.1" y2="407.8" stroke="#111" stroke-width="1.3"/>
<text x="424.7" y="410.2" font-size="6.9" text-anchor="end" font-weight="normal" fill="#333" stroke="#333" stroke-width="0.18">0.4</text>
<line x1="428.3" y1="415" x2="430.5" y2="415" stroke="#111" stroke-width="1"/>
<line x1="427.3" y1="421.7" x2="430.5" y2="421.7" stroke="#111" stroke-width="1.1"/>
<text x="424.7" y="424.1" font-size="6.9" text-anchor="end" font-weight="normal" fill="#333" stroke="#333" stroke-width="0.18">0.0</text>
<line x1="429.75" y1="422.9" x2="511.3" y2="422.9" stroke="#111" stroke-width="1.6"/>
<line x1="431.5" y1="421.4" x2="511.3" y2="421.4" stroke="#555" stroke-width="0.8" stroke-dasharray="1.1,1.2"/>
<line x1="441" y1="422.9" x2="441" y2="425.7" stroke="#111" stroke-width="1.1"/>
<text x="441" y="434.8" font-size="6.7" text-anchor="middle" font-weight="normal" fill="#333" stroke="#333" stroke-width="0.18">CTL</text>
<line x1="461.1" y1="422.9" x2="461.1" y2="425.7" stroke="#111" stroke-width="1.1"/>
<text x="461.1" y="434.8" font-size="6.7" text-anchor="middle" font-weight="normal" fill="#333" stroke="#333" stroke-width="0.18">CX</text>
<line x1="481.5" y1="422.9" x2="481.5" y2="425.7" stroke="#111" stroke-width="1.1"/>
<text x="481.5" y="434.8" font-size="6.7" text-anchor="middle" font-weight="normal" fill="#333" stroke="#333" stroke-width="0.18">DOX</text>
<line x1="502" y1="422.9" x2="502" y2="425.7" stroke="#111" stroke-width="1.1"/>
<text x="502" y="434.8" font-size="6.7" text-anchor="middle" font-weight="normal" fill="#333" stroke="#333" stroke-width="0.18">DOX+</text>
<text x="502.3" y="442.8" font-size="6.7" text-anchor="middle" font-weight="normal" fill="#333" stroke="#333" stroke-width="0.18">CX</text>
<line x1="441" y1="367" x2="441" y2="374" stroke="#4b0f6b" stroke-width="0.55"/>
<line x1="438.3" y1="367" x2="443.7" y2="367" stroke="#4b0f6b" stroke-width="0.9"/>
<line x1="438.3" y1="374" x2="443.7" y2="374" stroke="#4b0f6b" stroke-width="0.9"/>
<circle cx="439.4" cy="362.52" r="1.2" fill="#4b0f6b"/>
<circle cx="442.39" cy="361.82" r="1.2" fill="#4b0f6b"/>
<circle cx="438.86" cy="364.09" r="1.2" fill="#4b0f6b"/>
<circle cx="444.06" cy="364.23" r="1.2" fill="#4b0f6b"/>
<circle cx="437.44" cy="367.07" r="1.2" fill="#4b0f6b"/>
<circle cx="441" cy="368" r="1.2" fill="#4b0f6b"/>
<circle cx="444.59" cy="367.22" r="1.2" fill="#4b0f6b"/>
<circle cx="435.51" cy="370.78" r="1.2" fill="#4b0f6b"/>
<circle cx="440.35" cy="370.62" r="1.2" fill="#4b0f6b"/>
<circle cx="446.03" cy="371.52" r="1.2" fill="#4b0f6b"/>
<circle cx="436.25" cy="374.97" r="1.2" fill="#4b0f6b"/>
<circle cx="440.54" cy="374.84" r="1.2" fill="#4b0f6b"/>
<circle cx="445.46" cy="374.54" r="1.2" fill="#4b0f6b"/>
<circle cx="438.69" cy="376.83" r="1.2" fill="#4b0f6b"/>
<circle cx="444.02" cy="377.07" r="1.2" fill="#4b0f6b"/>
<line x1="434.2" y1="370.3" x2="447.8" y2="370.3" stroke="#111" stroke-width="1.4"/>
<line x1="461.1" y1="388" x2="461.1" y2="395" stroke="#3f9e1f" stroke-width="0.55"/>
<line x1="458.4" y1="388" x2="463.8" y2="388" stroke="#3f9e1f" stroke-width="0.9"/>
<line x1="458.4" y1="395" x2="463.8" y2="395" stroke="#3f9e1f" stroke-width="0.9"/>
<circle cx="461.1" cy="385" r="1.2" fill="#3f9e1f"/>
<circle cx="457.21" cy="387.96" r="1.2" fill="#3f9e1f"/>
<circle cx="464.55" cy="388.09" r="1.2" fill="#3f9e1f"/>
<circle cx="458.28" cy="390.37" r="1.2" fill="#3f9e1f"/>
<circle cx="464.52" cy="390.22" r="1.2" fill="#3f9e1f"/>
<circle cx="456.79" cy="393.09" r="1.2" fill="#3f9e1f"/>
<circle cx="459.24" cy="393.32" r="1.2" fill="#3f9e1f"/>
<circle cx="462.69" cy="392.61" r="1.2" fill="#3f9e1f"/>
<circle cx="466.44" cy="392.46" r="1.2" fill="#3f9e1f"/>
<circle cx="457.55" cy="395.2" r="1.2" fill="#3f9e1f"/>
<circle cx="461.29" cy="396.08" r="1.2" fill="#3f9e1f"/>
<circle cx="465.22" cy="395.7" r="1.2" fill="#3f9e1f"/>
<circle cx="458.84" cy="396.9" r="1.2" fill="#3f9e1f"/>
<circle cx="462.45" cy="397.08" r="1.2" fill="#3f9e1f"/>
<line x1="454.3" y1="392.2" x2="467.9" y2="392.2" stroke="#111" stroke-width="1.4"/>
<line x1="481.5" y1="396" x2="481.5" y2="401" stroke="#1d3f8c" stroke-width="0.55"/>
<line x1="478.8" y1="396" x2="484.2" y2="396" stroke="#1d3f8c" stroke-width="0.9"/>
<line x1="478.8" y1="401" x2="484.2" y2="401" stroke="#1d3f8c" stroke-width="0.9"/>
<circle cx="476.66" cy="395.42" r="1.2" fill="#1d3f8c"/>
<circle cx="481.52" cy="395.97" r="1.2" fill="#1d3f8c"/>
<circle cx="485.98" cy="395.17" r="1.2" fill="#1d3f8c"/>
<circle cx="476.21" cy="396.93" r="1.2" fill="#1d3f8c"/>
<circle cx="480.8" cy="397.33" r="1.2" fill="#1d3f8c"/>
<circle cx="486.45" cy="397.33" r="1.2" fill="#1d3f8c"/>
<circle cx="476.11" cy="400.1" r="1.2" fill="#1d3f8c"/>
<circle cx="481.62" cy="399.65" r="1.2" fill="#1d3f8c"/>
<circle cx="486.67" cy="399.97" r="1.2" fill="#1d3f8c"/>
<circle cx="477.99" cy="402.52" r="1.2" fill="#1d3f8c"/>
<circle cx="484.14" cy="401.58" r="1.2" fill="#1d3f8c"/>
<line x1="474.7" y1="398.6" x2="488.3" y2="398.6" stroke="#111" stroke-width="1.4"/>
<line x1="502" y1="412" x2="502" y2="416.5" stroke="#b3123a" stroke-width="0.55"/>
<line x1="499.3" y1="412" x2="504.7" y2="412" stroke="#b3123a" stroke-width="0.9"/>
<line x1="499.3" y1="416.5" x2="504.7" y2="416.5" stroke="#b3123a" stroke-width="0.9"/>
<circle cx="498.43" cy="410.67" r="1.2" fill="#b3123a"/>
<circle cx="505.52" cy="410.84" r="1.2" fill="#b3123a"/>
<circle cx="496.86" cy="412.22" r="1.2" fill="#b3123a"/>
<circle cx="501.32" cy="412.67" r="1.2" fill="#b3123a"/>
<circle cx="507.09" cy="412.32" r="1.2" fill="#b3123a"/>
<circle cx="496.7" cy="414.93" r="1.2" fill="#b3123a"/>
<circle cx="502.61" cy="415.28" r="1.2" fill="#b3123a"/>
<circle cx="507.15" cy="415.48" r="1.2" fill="#b3123a"/>
<circle cx="497.36" cy="417.54" r="1.2" fill="#b3123a"/>
<circle cx="501.87" cy="417.19" r="1.2" fill="#b3123a"/>
<circle cx="505.38" cy="417.83" r="1.2" fill="#b3123a"/>
<line x1="495.2" y1="414.2" x2="508.8" y2="414.2" stroke="#111" stroke-width="1.4"/>
<polyline points="461.1,378.2 461.1,364.4 502.3,364.4 502.3,382.2" fill="none" stroke="#2a2a2a" stroke-width="1.25"/>
<polygon points="458.8,376.7 463.4,376.7 461.1,381.7" fill="#1a1a1a"/>
<polygon points="500,380.7 504.6,380.7 502.3,385.7" fill="#1a1a1a"/>
<rect x="477.82" y="360.65" width="2.1" height="1.5" fill="#333"/>
<rect x="480.55" y="360.65" width="2.1" height="1.5" fill="#333"/>
<rect x="483.28" y="360.65" width="2.1" height="1.5" fill="#333"/>
<polyline points="481.6,389.9 481.6,389.6 502.3,389.6 502.3,404.6" fill="none" stroke="#2a2a2a" stroke-width="1.25"/>
<polygon points="479.3,388.4 483.9,388.4 481.6,393.4" fill="#1a1a1a"/>
<polygon points="500,403.1 504.6,403.1 502.3,408.1" fill="#1a1a1a"/>
<rect x="488.22" y="385.75" width="2.1" height="1.5" fill="#333"/>
<rect x="490.95" y="385.75" width="2.1" height="1.5" fill="#333"/>
<rect x="493.68" y="385.75" width="2.1" height="1.5" fill="#333"/>
<line x1="22" y1="473.2" x2="509.5" y2="473.2" stroke="#333" stroke-width="1.1"/>
<text x="175.8" y="468.1" font-size="9.3" text-anchor="start" font-weight="normal" fill="#222" stroke="#222" stroke-width="0.18" textLength="191.3" lengthAdjust="spacingAndGlyphs">CK2 inhibitors affect leukemia xenograft survival</text>
<text x="8.5" y="486.5" font-size="12.79" text-anchor="start" font-weight="bold" fill="#000" stroke="#000" stroke-width="0.35">D</text>
<text x="87.5" y="498.75" font-size="9.81" text-anchor="start" font-weight="normal" fill="#222" stroke="#222" stroke-width="0.18" textLength="35" lengthAdjust="spacingAndGlyphs">Patient 1</text>
<line x1="50.9" y1="503.6" x2="50.9" y2="578" stroke="#111" stroke-width="1.6"/>
<line x1="47.7" y1="577.3" x2="50.9" y2="577.3" stroke="#111" stroke-width="1"/>
<line x1="48.7" y1="570.85" x2="50.9" y2="570.85" stroke="#111" stroke-width="1"/>
<line x1="48.7" y1="564.4" x2="50.9" y2="564.4" stroke="#111" stroke-width="1"/>
<line x1="48.7" y1="557.95" x2="50.9" y2="557.95" stroke="#111" stroke-width="1"/>
<line x1="48.7" y1="551.5" x2="50.9" y2="551.5" stroke="#111" stroke-width="1"/>
<line x1="47.7" y1="545.05" x2="50.9" y2="545.05" stroke="#111" stroke-width="1"/>
<line x1="48.7" y1="538.6" x2="50.9" y2="538.6" stroke="#111" stroke-width="1"/>
<line x1="48.7" y1="532.15" x2="50.9" y2="532.15" stroke="#111" stroke-width="1"/>
<line x1="48.7" y1="525.7" x2="50.9" y2="525.7" stroke="#111" stroke-width="1"/>
<line x1="48.7" y1="519.25" x2="50.9" y2="519.25" stroke="#111" stroke-width="1"/>
<line x1="47.7" y1="512.8" x2="50.9" y2="512.8" stroke="#111" stroke-width="1"/>
<line x1="48.7" y1="506.35" x2="50.9" y2="506.35" stroke="#111" stroke-width="1"/>
<text x="44.9" y="515.2" font-size="7" text-anchor="end" font-weight="normal" fill="#333" stroke="#333" stroke-width="0.18">100</text>
<text x="44.9" y="547.45" font-size="7" text-anchor="end" font-weight="normal" fill="#333" stroke="#333" stroke-width="0.18">50</text>
<text x="44.9" y="579.7" font-size="7" text-anchor="end" font-weight="normal" fill="#333" stroke="#333" stroke-width="0.18">0</text>
<text transform="translate(27.6,540) rotate(-90)" x="0" y="0" font-size="9.6" text-anchor="middle" fill="#333" stroke="#333" stroke-width="0.15" textLength="36.1" lengthAdjust="spacingAndGlyphs">Survival (%)</text>
<line x1="50.1" y1="577.3" x2="158.5" y2="577.3" stroke="#111" stroke-width="1.5"/>
<line x1="50.9" y1="577.3" x2="50.9" y2="580.8" stroke="#111" stroke-width="1"/>
<text x="50.9" y="589.4" font-size="6.8" text-anchor="middle" font-weight="normal" fill="#333" stroke="#333" stroke-width="0.18">0</text>
<line x1="77" y1="577.3" x2="77" y2="580.8" stroke="#111" stroke-width="1"/>
<text x="77" y="589.4" font-size="6.8" text-anchor="middle" font-weight="normal" fill="#333" stroke="#333" stroke-width="0.18">20</text>
<line x1="103.4" y1="577.3" x2="103.4" y2="580.8" stroke="#111" stroke-width="1"/>
<text x="103.4" y="589.4" font-size="6.8" text-anchor="middle" font-weight="normal" fill="#333" stroke="#333" stroke-width="0.18">40</text>
<line x1="129.9" y1="577.3" x2="129.9" y2="580.8" stroke="#111" stroke-width="1"/>
<text x="129.9" y="589.4" font-size="6.8" text-anchor="middle" font-weight="normal" fill="#333" stroke="#333" stroke-width="0.18">60</text>
<line x1="156.3" y1="577.3" x2="156.3" y2="580.8" stroke="#111" stroke-width="1"/>
<text x="156.3" y="589.4" font-size="6.8" text-anchor="middle" font-weight="normal" fill="#333" stroke="#333" stroke-width="0.18">80</text>
<polyline points="50.9,512.8 81,512.8 81,523.55 82.5,523.55 82.5,528.92 83.6,528.92 83.6,539.67 85.1,539.67 85.1,545.05 86.5,545.05 86.5,550.42 87.8,550.42 87.8,555.8 89.3,555.8 89.3,561.17 91,561.17 91,566.55 92.8,566.55 92.8,577.3" fill="none" stroke="#55257a" stroke-width="1.35" stroke-linejoin="miter"/>
<polyline points="81,512.8 92.8,512.8 92.8,518.17 93.9,518.17 93.9,523.55 95.5,523.55 95.5,528.92 98.4,528.92 98.4,539.67 101.1,539.67 101.1,555.8 103.6,555.8 103.6,561.17 104.8,561.17 104.8,566.55 106.3,566.55 106.3,577.3" fill="none" stroke="#5cb43a" stroke-width="1.35" stroke-linejoin="miter"/>
<polyline points="92.8,512.8 98.4,512.8 98.4,518.17 100.8,518.17 100.8,523.55 102,523.55 102,528.92 103.5,528.92 103.5,534.3 107.5,534.3 107.5,545.05 108.75,545.05 108.75,555.8 110.9,555.8 110.9,561.17 111.5,561.17 111.5,571.92 112.7,571.92 112.7,577.3" fill="none" stroke="#22468f" stroke-width="1.35" stroke-linejoin="miter"/>
<polyline points="98.4,512.8 123.3,512.8 123.3,523.55 124.4,523.55 124.4,528.92 127,528.92 127,534.3 129.9,534.3 129.9,539.67 131.3,539.67 131.3,545.05 133.7,545.05 133.7,555.8 135.4,555.8 135.4,561.17 136.6,561.17 136.6,566.55 139.1,566.55 139.1,571.92 140.5,571.92 140.5,577.3" fill="none" stroke="#c0103c" stroke-width="1.35" stroke-linejoin="miter"/>
<rect x="136.65" y="551.55" width="1.5" height="1.3" fill="#5aae3c"/>
<rect x="139.68" y="551.55" width="1.5" height="1.3" fill="#5aae3c"/>
<rect x="142.72" y="551.55" width="1.5" height="1.3" fill="#5aae3c"/>
<rect x="145.75" y="551.55" width="1.5" height="1.3" fill="#5aae3c"/>
<rect x="137.95" y="561.95" width="1.5" height="1.3" fill="#3a5ca6"/>
<rect x="141.18" y="561.95" width="1.5" height="1.3" fill="#3a5ca6"/>
<rect x="144.42" y="561.95" width="1.5" height="1.3" fill="#3a5ca6"/>
<rect x="147.65" y="561.95" width="1.5" height="1.3" fill="#3a5ca6"/>
<text x="54" y="561.3" font-size="5.3" text-anchor="start" font-weight="normal" fill="#c2405c" textLength="20.8" lengthAdjust="spacingAndGlyphs">CX+Dox</text>
<text x="76.5" y="561.3" font-size="4.6" text-anchor="start" font-weight="normal" fill="#333" stroke="#333" stroke-width="0.1" textLength="6.1" lengthAdjust="spacingAndGlyphs">vs.</text>
<line x1="54" y1="562.6" x2="83" y2="562.6" stroke="#666" stroke-width="0.7"/>
<text x="54" y="568" font-size="5.3" text-anchor="start" font-weight="normal" fill="#62ae4c" textLength="6.9" lengthAdjust="spacingAndGlyphs">CX</text>
<text x="65.7" y="568" font-size="5.3" text-anchor="start" font-weight="normal" fill="#62ae4c" textLength="23.4" lengthAdjust="spacingAndGlyphs">P&lt;0.0001</text>
<text x="54" y="574.7" font-size="5.3" text-anchor="start" font-weight="normal" fill="#3a5a9c" textLength="10.4" lengthAdjust="spacingAndGlyphs">Dox</text>
<text x="65.7" y="574.7" font-size="5.3" text-anchor="start" font-weight="normal" fill="#3a5a9c" textLength="22.9" lengthAdjust="spacingAndGlyphs">P&lt;0.0001</text>
<polygon points="50.6,597.6 52.5,594.9 78.3,594.9 80.2,597.6 78.3,601 52.5,601" fill="#a8082a"/>
<polygon points="51.55,595.4 53.65,595.4 52.6,593.5" fill="#a8082a"/>
<polygon points="53.52,595.4 55.62,595.4 54.57,593.5" fill="#a8082a"/>
<polygon points="55.49,595.4 57.59,595.4 56.54,593.5" fill="#a8082a"/>
<polygon points="57.46,595.4 59.56,595.4 58.51,593.5" fill="#a8082a"/>
<polygon points="59.43,595.4 61.53,595.4 60.48,593.5" fill="#a8082a"/>
<polygon points="61.4,595.4 63.5,595.4 62.45,593.5" fill="#a8082a"/>
<polygon points="63.37,595.4 65.47,595.4 64.42,593.5" fill="#a8082a"/>
<polygon points="65.33,595.4 67.43,595.4 66.38,593.5" fill="#a8082a"/>
<polygon points="67.3,595.4 69.4,595.4 68.35,593.5" fill="#a8082a"/>
<polygon points="69.27,595.4 71.37,595.4 70.32,593.5" fill="#a8082a"/>
<polygon points="71.24,595.4 73.34,595.4 72.29,593.5" fill="#a8082a"/>
<polygon points="73.21,595.4 75.31,595.4 74.26,593.5" fill="#a8082a"/>
<polygon points="75.18,595.4 77.28,595.4 76.23,593.5" fill="#a8082a"/>
<polygon points="77.15,595.4 79.25,595.4 78.2,593.5" fill="#a8082a"/>
<rect x="53.6" y="598.3" width="2" height="0.7" fill="#e8b0bc"/>
<rect x="57.2" y="598.3" width="2" height="0.7" fill="#e8b0bc"/>
<rect x="60.8" y="598.3" width="2" height="0.7" fill="#e8b0bc"/>
<rect x="64.4" y="598.3" width="2" height="0.7" fill="#e8b0bc"/>
<rect x="68" y="598.3" width="2" height="0.7" fill="#e8b0bc"/>
<rect x="71.6" y="598.3" width="2" height="0.7" fill="#e8b0bc"/>
<rect x="75.2" y="598.3" width="2" height="0.7" fill="#e8b0bc"/>
<text x="98.1" y="601.5" font-size="9.3" text-anchor="start" font-weight="normal" fill="#333" stroke="#333" stroke-width="0.18" textLength="14.4" lengthAdjust="spacingAndGlyphs">Days</text>
<text x="64.8" y="619.5" font-size="6.4" text-anchor="middle" font-weight="normal" fill="#333" stroke="#333" stroke-width="0.18" textLength="22" lengthAdjust="spacingAndGlyphs">CX-4945</text>
<line x1="53.8" y1="620.6" x2="75.8" y2="620.6" stroke="#555" stroke-width="0.6"/>
<text x="64.8" y="626.2" font-size="6.2" text-anchor="middle" font-weight="normal" fill="#333" stroke="#333" stroke-width="0.1" textLength="38" lengthAdjust="spacingAndGlyphs">100 mg/kg/day</text>
<text x="64.8" y="637.7" font-size="6.4" text-anchor="middle" font-weight="normal" fill="#333" stroke="#333" stroke-width="0.18" textLength="10.4" lengthAdjust="spacingAndGlyphs">Dox</text>
<line x1="59.6" y1="638.3" x2="70" y2="638.3" stroke="#aaa" stroke-width="0.5"/>
<text x="64.8" y="644.6" font-size="6.2" text-anchor="middle" font-weight="normal" fill="#333" stroke="#333" stroke-width="0.1" textLength="30.4" lengthAdjust="spacingAndGlyphs">1mg/kg/day</text>
<line x1="93.2" y1="615.9" x2="103" y2="615.9" stroke="#6e3f92" stroke-width="1.5"/>
<line x1="98.1" y1="615.9" x2="98.1" y2="613" stroke="#6e3f92" stroke-width="1.2"/>
<text x="105.8" y="617.7" font-size="5.9" text-anchor="start" font-weight="normal" fill="#333" stroke="#333" stroke-width="0.08" textLength="36.4" lengthAdjust="spacingAndGlyphs">Control (n=12)</text>
<line x1="93.2" y1="624.9" x2="103" y2="624.9" stroke="#6cba4c" stroke-width="1.5"/>
<line x1="98.1" y1="624.9" x2="98.1" y2="622" stroke="#6cba4c" stroke-width="1.2"/>
<text x="105.8" y="626.7" font-size="5.9" text-anchor="start" font-weight="normal" fill="#333" stroke="#333" stroke-width="0.08" textLength="39.2" lengthAdjust="spacingAndGlyphs">CX-4945 (n=12)</text>
<line x1="93.2" y1="633.9" x2="103" y2="633.9" stroke="#2f4f96" stroke-width="1.5"/>
<line x1="98.1" y1="633.9" x2="98.1" y2="631" stroke="#2f4f96" stroke-width="1.2"/>
<text x="105.8" y="635.7" font-size="5.9" text-anchor="start" font-weight="normal" fill="#333" stroke="#333" stroke-width="0.08" textLength="30" lengthAdjust="spacingAndGlyphs">DOX (n=12)</text>
<line x1="93.2" y1="642.9" x2="103" y2="642.9" stroke="#c2163f" stroke-width="1.5"/>
<line x1="98.1" y1="642.9" x2="98.1" y2="640" stroke="#c2163f" stroke-width="1.2"/>
<text x="105.8" y="644.7" font-size="5.9" text-anchor="start" font-weight="normal" fill="#333" stroke="#333" stroke-width="0.08" textLength="41" lengthAdjust="spacingAndGlyphs">CX+DOX (n=12)</text>
<text x="176.5" y="486.5" font-size="12.79" text-anchor="start" font-weight="bold" fill="#000" stroke="#000" stroke-width="0.35">E</text>
<text x="254.5" y="498.75" font-size="9.81" text-anchor="start" font-weight="normal" fill="#222" stroke="#222" stroke-width="0.18" textLength="35" lengthAdjust="spacingAndGlyphs">Patient 2</text>
<line x1="217.25" y1="503.6" x2="217.25" y2="578" stroke="#111" stroke-width="1.6"/>
<line x1="214.05" y1="577.3" x2="217.25" y2="577.3" stroke="#111" stroke-width="1"/>
<line x1="215.05" y1="570.85" x2="217.25" y2="570.85" stroke="#111" stroke-width="1"/>
<line x1="215.05" y1="564.4" x2="217.25" y2="564.4" stroke="#111" stroke-width="1"/>
<line x1="215.05" y1="557.95" x2="217.25" y2="557.95" stroke="#111" stroke-width="1"/>
<line x1="215.05" y1="551.5" x2="217.25" y2="551.5" stroke="#111" stroke-width="1"/>
<line x1="214.05" y1="545.05" x2="217.25" y2="545.05" stroke="#111" stroke-width="1"/>
<line x1="215.05" y1="538.6" x2="217.25" y2="538.6" stroke="#111" stroke-width="1"/>
<line x1="215.05" y1="532.15" x2="217.25" y2="532.15" stroke="#111" stroke-width="1"/>
<line x1="215.05" y1="525.7" x2="217.25" y2="525.7" stroke="#111" stroke-width="1"/>
<line x1="215.05" y1="519.25" x2="217.25" y2="519.25" stroke="#111" stroke-width="1"/>
<line x1="214.05" y1="512.8" x2="217.25" y2="512.8" stroke="#111" stroke-width="1"/>
<line x1="215.05" y1="506.35" x2="217.25" y2="506.35" stroke="#111" stroke-width="1"/>
<text x="211.25" y="515.2" font-size="7" text-anchor="end" font-weight="normal" fill="#333" stroke="#333" stroke-width="0.18">100</text>
<text x="211.25" y="547.45" font-size="7" text-anchor="end" font-weight="normal" fill="#333" stroke="#333" stroke-width="0.18">50</text>
<text x="211.25" y="579.7" font-size="7" text-anchor="end" font-weight="normal" fill="#333" stroke="#333" stroke-width="0.18">0</text>
<text transform="translate(194.95,540) rotate(-90)" x="0" y="0" font-size="9.6" text-anchor="middle" fill="#333" stroke="#333" stroke-width="0.15" textLength="36.1" lengthAdjust="spacingAndGlyphs">Survival (%)</text>
<line x1="216.45" y1="577.3" x2="326.5" y2="577.3" stroke="#111" stroke-width="1.5"/>
<line x1="217.25" y1="577.3" x2="217.25" y2="580.8" stroke="#111" stroke-width="1"/>
<text x="217.25" y="589.4" font-size="6.8" text-anchor="middle" font-weight="normal" fill="#333" stroke="#333" stroke-width="0.18">0</text>
<line x1="243.9" y1="577.3" x2="243.9" y2="580.8" stroke="#111" stroke-width="1"/>
<text x="243.9" y="589.4" font-size="6.8" text-anchor="middle" font-weight="normal" fill="#333" stroke="#333" stroke-width="0.18">20</text>
<line x1="270.4" y1="577.3" x2="270.4" y2="580.8" stroke="#111" stroke-width="1"/>
<text x="270.4" y="589.4" font-size="6.8" text-anchor="middle" font-weight="normal" fill="#333" stroke="#333" stroke-width="0.18">40</text>
<line x1="297.2" y1="577.3" x2="297.2" y2="580.8" stroke="#111" stroke-width="1"/>
<text x="297.2" y="589.4" font-size="6.8" text-anchor="middle" font-weight="normal" fill="#333" stroke="#333" stroke-width="0.18">60</text>
<line x1="323.8" y1="577.3" x2="323.8" y2="580.8" stroke="#111" stroke-width="1"/>
<text x="323.8" y="589.4" font-size="6.8" text-anchor="middle" font-weight="normal" fill="#333" stroke="#333" stroke-width="0.18">80</text>
<polyline points="217.25,512.8 246.3,512.8 246.3,518.17 247.8,518.17 247.8,534.3 248.6,534.3 248.6,539.67 254.3,539.67 254.3,550.42 255.8,550.42 255.8,555.8 257.8,555.8 257.8,561.17 259.5,561.17 259.5,566.55 261.2,566.55 261.2,571.92 262.4,571.92 262.4,577.3" fill="none" stroke="#55257a" stroke-width="1.35" stroke-linejoin="miter"/>
<polyline points="246.3,512.8 259.5,512.8 259.5,518.17 263.5,518.17 263.5,523.55 267.5,523.55 267.5,528.92 270.4,528.92 270.4,539.67 273.3,539.67 273.3,550.42 276.1,550.42 276.1,555.8 278.4,555.8 278.4,561.17 280.1,561.17 280.1,566.55 281.3,566.55 281.3,577.3" fill="none" stroke="#5cb43a" stroke-width="1.35" stroke-linejoin="miter"/>
<polyline points="259.5,512.8 273.5,512.8 273.5,518.17 274.4,518.17 274.4,528.92 276.5,528.92 276.5,534.3 279,534.3 279,539.67 280.7,539.67 280.7,550.42 282.4,550.42 282.4,555.8 283.6,555.8 283.6,561.17 285.3,561.17 285.3,571.92 287.6,571.92 287.6,577.3" fill="none" stroke="#22468f" stroke-width="1.35" stroke-linejoin="miter"/>
<polyline points="273.5,512.8 293.3,512.8 293.3,523.55 294.4,523.55 294.4,528.92 295.6,528.92 295.6,539.67 298.5,539.67 298.5,545.05 301.3,545.05 301.3,550.42 303.6,550.42 303.6,561.17 306.2,561.17 306.2,566.55 307.7,566.55 307.7,571.92 310.2,571.92 310.2,577.3" fill="none" stroke="#c0103c" stroke-width="1.35" stroke-linejoin="miter"/>
<rect x="306.65" y="552.55" width="1.5" height="1.3" fill="#5aae3c"/>
<rect x="309.68" y="552.55" width="1.5" height="1.3" fill="#5aae3c"/>
<rect x="312.72" y="552.55" width="1.5" height="1.3" fill="#5aae3c"/>
<rect x="315.75" y="552.55" width="1.5" height="1.3" fill="#5aae3c"/>
<rect x="308.25" y="562.85" width="1.5" height="1.3" fill="#3a5ca6"/>
<rect x="311.38" y="562.85" width="1.5" height="1.3" fill="#3a5ca6"/>
<rect x="314.52" y="562.85" width="1.5" height="1.3" fill="#3a5ca6"/>
<rect x="317.65" y="562.85" width="1.5" height="1.3" fill="#3a5ca6"/>
<text x="221.25" y="561.3" font-size="5.3" text-anchor="start" font-weight="normal" fill="#c2405c" textLength="20.8" lengthAdjust="spacingAndGlyphs">CX+Dox</text>
<text x="243.75" y="561.3" font-size="4.6" text-anchor="start" font-weight="normal" fill="#333" stroke="#333" stroke-width="0.1" textLength="6.1" lengthAdjust="spacingAndGlyphs">vs.</text>
<line x1="221.25" y1="562.6" x2="250.25" y2="562.6" stroke="#666" stroke-width="0.7"/>
<text x="221.25" y="568" font-size="5.3" text-anchor="start" font-weight="normal" fill="#62ae4c" textLength="6.9" lengthAdjust="spacingAndGlyphs">CX</text>
<text x="232.95" y="568" font-size="5.3" text-anchor="start" font-weight="normal" fill="#62ae4c" textLength="23.4" lengthAdjust="spacingAndGlyphs">P&lt;0.0001</text>
<text x="221.25" y="574.7" font-size="5.3" text-anchor="start" font-weight="normal" fill="#3a5a9c" textLength="10.4" lengthAdjust="spacingAndGlyphs">Dox</text>
<text x="232.95" y="574.7" font-size="5.3" text-anchor="start" font-weight="normal" fill="#3a5a9c" textLength="22.9" lengthAdjust="spacingAndGlyphs">P&lt;0.0001</text>
<polygon points="216.9,597.6 218.8,594.9 246.2,594.9 248.1,597.6 246.2,601 218.8,601" fill="#a8082a"/>
<polygon points="217.85,595.4 219.95,595.4 218.9,593.5" fill="#a8082a"/>
<polygon points="219.94,595.4 222.04,595.4 220.99,593.5" fill="#a8082a"/>
<polygon points="222.03,595.4 224.13,595.4 223.08,593.5" fill="#a8082a"/>
<polygon points="224.13,595.4 226.23,595.4 225.18,593.5" fill="#a8082a"/>
<polygon points="226.22,595.4 228.32,595.4 227.27,593.5" fill="#a8082a"/>
<polygon points="228.31,595.4 230.41,595.4 229.36,593.5" fill="#a8082a"/>
<polygon points="230.4,595.4 232.5,595.4 231.45,593.5" fill="#a8082a"/>
<polygon points="232.5,595.4 234.6,595.4 233.55,593.5" fill="#a8082a"/>
<polygon points="234.59,595.4 236.69,595.4 235.64,593.5" fill="#a8082a"/>
<polygon points="236.68,595.4 238.78,595.4 237.73,593.5" fill="#a8082a"/>
<polygon points="238.77,595.4 240.87,595.4 239.82,593.5" fill="#a8082a"/>
<polygon points="240.87,595.4 242.97,595.4 241.92,593.5" fill="#a8082a"/>
<polygon points="242.96,595.4 245.06,595.4 244.01,593.5" fill="#a8082a"/>
<polygon points="245.05,595.4 247.15,595.4 246.1,593.5" fill="#a8082a"/>
<rect x="219.9" y="598.3" width="2" height="0.7" fill="#e8b0bc"/>
<rect x="223.77" y="598.3" width="2" height="0.7" fill="#e8b0bc"/>
<rect x="227.63" y="598.3" width="2" height="0.7" fill="#e8b0bc"/>
<rect x="231.5" y="598.3" width="2" height="0.7" fill="#e8b0bc"/>
<rect x="235.37" y="598.3" width="2" height="0.7" fill="#e8b0bc"/>
<rect x="239.23" y="598.3" width="2" height="0.7" fill="#e8b0bc"/>
<rect x="243.1" y="598.3" width="2" height="0.7" fill="#e8b0bc"/>
<text x="265" y="601.5" font-size="9.3" text-anchor="start" font-weight="normal" fill="#333" stroke="#333" stroke-width="0.18" textLength="13.75" lengthAdjust="spacingAndGlyphs">Days</text>
<text x="232.2" y="619.5" font-size="6.4" text-anchor="middle" font-weight="normal" fill="#333" stroke="#333" stroke-width="0.18" textLength="22" lengthAdjust="spacingAndGlyphs">CX-4945</text>
<line x1="221.2" y1="620.6" x2="243.2" y2="620.6" stroke="#555" stroke-width="0.6"/>
<text x="232.2" y="626.2" font-size="6.2" text-anchor="middle" font-weight="normal" fill="#333" stroke="#333" stroke-width="0.1" textLength="38" lengthAdjust="spacingAndGlyphs">100 mg/kg/day</text>
<text x="232.2" y="637.7" font-size="6.4" text-anchor="middle" font-weight="normal" fill="#333" stroke="#333" stroke-width="0.18" textLength="10.4" lengthAdjust="spacingAndGlyphs">Dox</text>
<line x1="227" y1="638.3" x2="237.4" y2="638.3" stroke="#aaa" stroke-width="0.5"/>
<text x="232.2" y="644.6" font-size="6.2" text-anchor="middle" font-weight="normal" fill="#333" stroke="#333" stroke-width="0.1" textLength="30.4" lengthAdjust="spacingAndGlyphs">1mg/kg/day</text>
<line x1="261.2" y1="615.9" x2="271" y2="615.9" stroke="#6e3f92" stroke-width="1.5"/>
<line x1="266.1" y1="615.9" x2="266.1" y2="613" stroke="#6e3f92" stroke-width="1.2"/>
<text x="273.8" y="617.7" font-size="5.9" text-anchor="start" font-weight="normal" fill="#333" stroke="#333" stroke-width="0.08" textLength="36.4" lengthAdjust="spacingAndGlyphs">Control (n=12)</text>
<line x1="261.2" y1="624.9" x2="271" y2="624.9" stroke="#6cba4c" stroke-width="1.5"/>
<line x1="266.1" y1="624.9" x2="266.1" y2="622" stroke="#6cba4c" stroke-width="1.2"/>
<text x="273.8" y="626.7" font-size="5.9" text-anchor="start" font-weight="normal" fill="#333" stroke="#333" stroke-width="0.08" textLength="39.2" lengthAdjust="spacingAndGlyphs">CX-4945 (n=12)</text>
<line x1="261.2" y1="633.9" x2="271" y2="633.9" stroke="#2f4f96" stroke-width="1.5"/>
<line x1="266.1" y1="633.9" x2="266.1" y2="631" stroke="#2f4f96" stroke-width="1.2"/>
<text x="273.8" y="635.7" font-size="5.9" text-anchor="start" font-weight="normal" fill="#333" stroke="#333" stroke-width="0.08" textLength="30" lengthAdjust="spacingAndGlyphs">DOX (n=12)</text>
<line x1="261.2" y1="642.9" x2="271" y2="642.9" stroke="#c2163f" stroke-width="1.5"/>
<line x1="266.1" y1="642.9" x2="266.1" y2="640" stroke="#c2163f" stroke-width="1.2"/>
<text x="273.8" y="644.7" font-size="5.9" text-anchor="start" font-weight="normal" fill="#333" stroke="#333" stroke-width="0.08" textLength="41" lengthAdjust="spacingAndGlyphs">CX+DOX (n=12)</text>
<text x="343.8" y="486.5" font-size="12.79" text-anchor="start" font-weight="bold" fill="#000" stroke="#000" stroke-width="0.35">F</text>
<text x="421.25" y="498.75" font-size="9.81" text-anchor="start" font-weight="normal" fill="#222" stroke="#222" stroke-width="0.18" textLength="35" lengthAdjust="spacingAndGlyphs">Patient 3</text>
<line x1="383.9" y1="503.6" x2="383.9" y2="578" stroke="#111" stroke-width="1.6"/>
<line x1="380.7" y1="577.3" x2="383.9" y2="577.3" stroke="#111" stroke-width="1"/>
<line x1="381.7" y1="570.85" x2="383.9" y2="570.85" stroke="#111" stroke-width="1"/>
<line x1="381.7" y1="564.4" x2="383.9" y2="564.4" stroke="#111" stroke-width="1"/>
<line x1="381.7" y1="557.95" x2="383.9" y2="557.95" stroke="#111" stroke-width="1"/>
<line x1="381.7" y1="551.5" x2="383.9" y2="551.5" stroke="#111" stroke-width="1"/>
<line x1="380.7" y1="545.05" x2="383.9" y2="545.05" stroke="#111" stroke-width="1"/>
<line x1="381.7" y1="538.6" x2="383.9" y2="538.6" stroke="#111" stroke-width="1"/>
<line x1="381.7" y1="532.15" x2="383.9" y2="532.15" stroke="#111" stroke-width="1"/>
<line x1="381.7" y1="525.7" x2="383.9" y2="525.7" stroke="#111" stroke-width="1"/>
<line x1="381.7" y1="519.25" x2="383.9" y2="519.25" stroke="#111" stroke-width="1"/>
<line x1="380.7" y1="512.8" x2="383.9" y2="512.8" stroke="#111" stroke-width="1"/>
<line x1="381.7" y1="506.35" x2="383.9" y2="506.35" stroke="#111" stroke-width="1"/>
<text x="377.9" y="515.2" font-size="7" text-anchor="end" font-weight="normal" fill="#333" stroke="#333" stroke-width="0.18">100</text>
<text x="377.9" y="547.45" font-size="7" text-anchor="end" font-weight="normal" fill="#333" stroke="#333" stroke-width="0.18">50</text>
<text x="377.9" y="579.7" font-size="7" text-anchor="end" font-weight="normal" fill="#333" stroke="#333" stroke-width="0.18">0</text>
<text transform="translate(361.9,540) rotate(-90)" x="0" y="0" font-size="9.6" text-anchor="middle" fill="#333" stroke="#333" stroke-width="0.15" textLength="36.1" lengthAdjust="spacingAndGlyphs">Survival (%)</text>
<line x1="383.1" y1="577.3" x2="493.6" y2="577.3" stroke="#111" stroke-width="1.5"/>
<line x1="383.9" y1="577.3" x2="383.9" y2="580.8" stroke="#111" stroke-width="1"/>
<text x="383.9" y="589.4" font-size="6.8" text-anchor="middle" font-weight="normal" fill="#333" stroke="#333" stroke-width="0.18">0</text>
<line x1="410.5" y1="577.3" x2="410.5" y2="580.8" stroke="#111" stroke-width="1"/>
<text x="410.5" y="589.4" font-size="6.8" text-anchor="middle" font-weight="normal" fill="#333" stroke="#333" stroke-width="0.18">20</text>
<line x1="437.1" y1="577.3" x2="437.1" y2="580.8" stroke="#111" stroke-width="1"/>
<text x="437.1" y="589.4" font-size="6.8" text-anchor="middle" font-weight="normal" fill="#333" stroke="#333" stroke-width="0.18">40</text>
<line x1="463.5" y1="577.3" x2="463.5" y2="580.8" stroke="#111" stroke-width="1"/>
<text x="463.5" y="589.4" font-size="6.8" text-anchor="middle" font-weight="normal" fill="#333" stroke="#333" stroke-width="0.18">60</text>
<line x1="490.3" y1="577.3" x2="490.3" y2="580.8" stroke="#111" stroke-width="1"/>
<text x="490.3" y="589.4" font-size="6.8" text-anchor="middle" font-weight="normal" fill="#333" stroke="#333" stroke-width="0.18">80</text>
<polyline points="383.9,512.8 418.5,512.8 418.5,518.17 420,518.17 420,523.55 422.1,523.55 422.1,528.92 423.5,528.92 423.5,534.3 425.5,534.3 425.5,539.67 427.8,539.67 427.8,545.05 429.2,545.05 429.2,550.42 430.6,550.42 430.6,561.17 432.1,561.17 432.1,571.92 434.4,571.92 434.4,577.3" fill="none" stroke="#55257a" stroke-width="1.35" stroke-linejoin="miter"/>
<polyline points="418.5,512.8 434.4,512.8 434.4,523.55 436.1,523.55 436.1,528.92 437.2,528.92 437.2,534.3 439.8,534.3 439.8,539.67 445.5,539.67 445.5,545.05 446.4,545.05 446.4,550.42 448.5,550.42 448.5,555.8 450.1,555.8 450.1,566.55 451.9,566.55 451.9,577.3" fill="none" stroke="#5cb43a" stroke-width="1.35" stroke-linejoin="miter"/>
<polyline points="434.4,512.8 446.4,512.8 446.4,518.17 447.8,518.17 447.8,523.55 448.9,523.55 448.9,534.3 450.4,534.3 450.4,539.67 451.6,539.67 451.6,545.05 453.1,545.05 453.1,555.8 454.7,555.8 454.7,561.17 456.2,561.17 456.2,571.92 458.4,571.92 458.4,577.3" fill="none" stroke="#22468f" stroke-width="1.35" stroke-linejoin="miter"/>
<polyline points="446.4,512.8 465.7,512.8 465.7,518.17 469.7,518.17 469.7,528.92 473.5,528.92 473.5,534.3 477.5,534.3 477.5,545.05 481.5,545.05 481.5,550.42 482.7,550.42 482.7,555.8 484.1,555.8 484.1,566.55 485.5,566.55 485.5,571.92 488,571.92 488,577.3" fill="none" stroke="#c0103c" stroke-width="1.35" stroke-linejoin="miter"/>
<rect x="483.55" y="552.55" width="1.5" height="1.3" fill="#5aae3c"/>
<rect x="486.68" y="552.55" width="1.5" height="1.3" fill="#5aae3c"/>
<rect x="489.82" y="552.55" width="1.5" height="1.3" fill="#5aae3c"/>
<rect x="492.95" y="552.55" width="1.5" height="1.3" fill="#5aae3c"/>
<rect x="485.55" y="562.85" width="1.5" height="1.3" fill="#3a5ca6"/>
<rect x="488.55" y="562.85" width="1.5" height="1.3" fill="#3a5ca6"/>
<rect x="491.55" y="562.85" width="1.5" height="1.3" fill="#3a5ca6"/>
<rect x="494.55" y="562.85" width="1.5" height="1.3" fill="#3a5ca6"/>
<text x="390" y="561.3" font-size="5.3" text-anchor="start" font-weight="normal" fill="#c2405c" textLength="20.8" lengthAdjust="spacingAndGlyphs">CX+Dox</text>
<text x="412.5" y="561.3" font-size="4.6" text-anchor="start" font-weight="normal" fill="#333" stroke="#333" stroke-width="0.1" textLength="6.1" lengthAdjust="spacingAndGlyphs">vs.</text>
<line x1="390" y1="562.6" x2="419" y2="562.6" stroke="#666" stroke-width="0.7"/>
<text x="390" y="568" font-size="5.3" text-anchor="start" font-weight="normal" fill="#62ae4c" textLength="6.9" lengthAdjust="spacingAndGlyphs">CX</text>
<text x="401.7" y="568" font-size="5.3" text-anchor="start" font-weight="normal" fill="#62ae4c" textLength="23.4" lengthAdjust="spacingAndGlyphs">P&lt;0.0001</text>
<text x="390" y="574.7" font-size="5.3" text-anchor="start" font-weight="normal" fill="#3a5a9c" textLength="10.4" lengthAdjust="spacingAndGlyphs">Dox</text>
<text x="401.7" y="574.7" font-size="5.3" text-anchor="start" font-weight="normal" fill="#3a5a9c" textLength="22.9" lengthAdjust="spacingAndGlyphs">P&lt;0.0001</text>
<polygon points="383.8,597.6 385.7,594.9 412.45,594.9 414.35,597.6 412.45,601 385.7,601" fill="#a8082a"/>
<polygon points="384.75,595.4 386.85,595.4 385.8,593.5" fill="#a8082a"/>
<polygon points="386.79,595.4 388.89,595.4 387.84,593.5" fill="#a8082a"/>
<polygon points="388.83,595.4 390.93,595.4 389.88,593.5" fill="#a8082a"/>
<polygon points="390.88,595.4 392.98,595.4 391.93,593.5" fill="#a8082a"/>
<polygon points="392.92,595.4 395.02,595.4 393.97,593.5" fill="#a8082a"/>
<polygon points="394.96,595.4 397.06,595.4 396.01,593.5" fill="#a8082a"/>
<polygon points="397,595.4 399.1,595.4 398.05,593.5" fill="#a8082a"/>
<polygon points="399.05,595.4 401.15,595.4 400.1,593.5" fill="#a8082a"/>
<polygon points="401.09,595.4 403.19,595.4 402.14,593.5" fill="#a8082a"/>
<polygon points="403.13,595.4 405.23,595.4 404.18,593.5" fill="#a8082a"/>
<polygon points="405.17,595.4 407.27,595.4 406.22,593.5" fill="#a8082a"/>
<polygon points="407.22,595.4 409.32,595.4 408.27,593.5" fill="#a8082a"/>
<polygon points="409.26,595.4 411.36,595.4 410.31,593.5" fill="#a8082a"/>
<polygon points="411.3,595.4 413.4,595.4 412.35,593.5" fill="#a8082a"/>
<rect x="386.8" y="598.3" width="2" height="0.7" fill="#e8b0bc"/>
<rect x="390.56" y="598.3" width="2" height="0.7" fill="#e8b0bc"/>
<rect x="394.32" y="598.3" width="2" height="0.7" fill="#e8b0bc"/>
<rect x="398.07" y="598.3" width="2" height="0.7" fill="#e8b0bc"/>
<rect x="401.83" y="598.3" width="2" height="0.7" fill="#e8b0bc"/>
<rect x="405.59" y="598.3" width="2" height="0.7" fill="#e8b0bc"/>
<rect x="409.35" y="598.3" width="2" height="0.7" fill="#e8b0bc"/>
<text x="430" y="601.5" font-size="9.3" text-anchor="start" font-weight="normal" fill="#333" stroke="#333" stroke-width="0.18" textLength="13.9" lengthAdjust="spacingAndGlyphs">Days</text>
<text x="399.2" y="619.5" font-size="6.4" text-anchor="middle" font-weight="normal" fill="#333" stroke="#333" stroke-width="0.18" textLength="22" lengthAdjust="spacingAndGlyphs">CX-4945</text>
<line x1="388.2" y1="620.6" x2="410.2" y2="620.6" stroke="#555" stroke-width="0.6"/>
<text x="399.2" y="626.2" font-size="6.2" text-anchor="middle" font-weight="normal" fill="#333" stroke="#333" stroke-width="0.1" textLength="38" lengthAdjust="spacingAndGlyphs">100 mg/kg/day</text>
<text x="399.2" y="637.7" font-size="6.4" text-anchor="middle" font-weight="normal" fill="#333" stroke="#333" stroke-width="0.18" textLength="10.4" lengthAdjust="spacingAndGlyphs">Dox</text>
<line x1="394" y1="638.3" x2="404.4" y2="638.3" stroke="#aaa" stroke-width="0.5"/>
<text x="399.2" y="644.6" font-size="6.2" text-anchor="middle" font-weight="normal" fill="#333" stroke="#333" stroke-width="0.1" textLength="30.4" lengthAdjust="spacingAndGlyphs">1mg/kg/day</text>
<line x1="428.2" y1="615.9" x2="438" y2="615.9" stroke="#6e3f92" stroke-width="1.5"/>
<line x1="433.1" y1="615.9" x2="433.1" y2="613" stroke="#6e3f92" stroke-width="1.2"/>
<text x="440.8" y="617.7" font-size="5.9" text-anchor="start" font-weight="normal" fill="#333" stroke="#333" stroke-width="0.08" textLength="36.4" lengthAdjust="spacingAndGlyphs">Control (n=12)</text>
<line x1="428.2" y1="624.9" x2="438" y2="624.9" stroke="#6cba4c" stroke-width="1.5"/>
<line x1="433.1" y1="624.9" x2="433.1" y2="622" stroke="#6cba4c" stroke-width="1.2"/>
<text x="440.8" y="626.7" font-size="5.9" text-anchor="start" font-weight="normal" fill="#333" stroke="#333" stroke-width="0.08" textLength="39.2" lengthAdjust="spacingAndGlyphs">CX-4945 (n=12)</text>
<line x1="428.2" y1="633.9" x2="438" y2="633.9" stroke="#2f4f96" stroke-width="1.5"/>
<line x1="433.1" y1="633.9" x2="433.1" y2="631" stroke="#2f4f96" stroke-width="1.2"/>
<text x="440.8" y="635.7" font-size="5.9" text-anchor="start" font-weight="normal" fill="#333" stroke="#333" stroke-width="0.08" textLength="30" lengthAdjust="spacingAndGlyphs">DOX (n=12)</text>
<line x1="428.2" y1="642.9" x2="438" y2="642.9" stroke="#c2163f" stroke-width="1.5"/>
<line x1="433.1" y1="642.9" x2="433.1" y2="640" stroke="#c2163f" stroke-width="1.2"/>
<text x="440.8" y="644.7" font-size="5.9" text-anchor="start" font-weight="normal" fill="#333" stroke="#333" stroke-width="0.08" textLength="41" lengthAdjust="spacingAndGlyphs">CX+DOX (n=12)</text>
<rect x="0.5" y="0.5" width="519" height="653" fill="none" stroke="#000" stroke-width="1.2"/>
</svg>
</body></html>
